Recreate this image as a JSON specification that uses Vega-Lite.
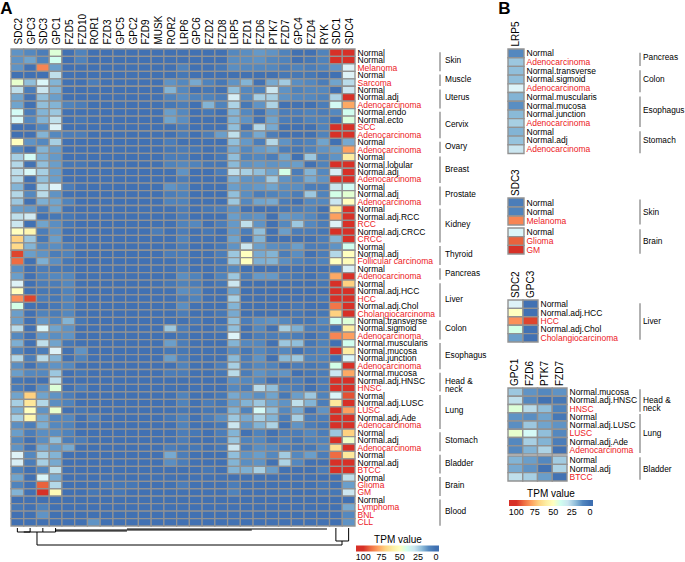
{"$schema":"https://vega.github.io/schema/vega-lite/v6.json","padding":0,"spacing":10,"background":"white","resolve":{"scale":{"color":"independent"}},
"config":{"font":"Liberation Sans","view":{"stroke":null},"axis":{"labelFont":"Liberation Sans","labelColor":"black","domain":false,"ticks":false,"grid":false,"title":null},"legend":{"labelFont":"Liberation Sans","titleFont":"Liberation Sans"},"title":{"font":"Liberation Sans"},"concat":{"spacing":0}},
"params":[{"name":"rowLabels","value":["Normal","Normal","Melanoma","Normal","Sarcoma","Normal","Normal.adj","Adenocarcinoma","Normal.endo","Normal.ecto","SCC","Adenocarcinoma","Normal","Adenocarcinoma","Normal","Normal.lobular","Normal.adj","Adenocarcinoma","Normal","Normal.adj","Adenocarcinoma","Normal","Normal.adj.RCC","RCC","Normal.adj.CRCC","CRCC","Normal","Normal.adj","Follicular carcinoma","Normal","Adenocarcinoma","Normal","Normal.adj.HCC","HCC","Normal.adj.Chol","Cholangiocarcinoma","Normal.transverse","Normal.sigmoid","Adenocarcinoma","Normal.muscularis","Normal.mucosa","Normal.junction","Adenocarcinoma","Normal.mucosa","Normal.adj.HNSC","HNSC","Normal","Normal.adj.LUSC","LUSC","Normal.adj.Ade","Adenocarcinoma","Normal","Normal.adj","Adenocarcinoma","Normal","Normal.adj","BTCC","Normal","Glioma","GM","Normal","Lymphoma","BNL","CLL"]},{"name":"redRows","value":[3,5,8,11,12,14,18,21,24,26,29,31,34,36,39,43,46,49,51,54,57,59,60,62,63,64]}],
"datasets":{"groups":[{"group":"Skin","label":"Skin","first":1,"last":3,"mid":2,"even":0},{"group":"Muscle","label":"Muscle","first":4,"last":5,"mid":4,"even":1},{"group":"Uterus","label":"Uterus","first":6,"last":8,"mid":7,"even":0},{"group":"Cervix","label":"Cervix","first":9,"last":12,"mid":10,"even":1},{"group":"Ovary","label":"Ovary","first":13,"last":14,"mid":13,"even":1},{"group":"Breast","label":"Breast","first":15,"last":18,"mid":16,"even":1},{"group":"Prostate","label":"Prostate","first":19,"last":21,"mid":20,"even":0},{"group":"Kidney","label":"Kidney","first":22,"last":26,"mid":24,"even":0},{"group":"Thyroid","label":"Thyroid","first":27,"last":29,"mid":28,"even":0},{"group":"Pancreas","label":"Pancreas","first":30,"last":31,"mid":30,"even":1},{"group":"Liver","label":"Liver","first":32,"last":36,"mid":34,"even":0},{"group":"Colon","label":"Colon","first":37,"last":39,"mid":38,"even":0},{"group":"Esophagus","label":"Esophagus","first":40,"last":43,"mid":41,"even":1},{"group":"Head","label":"Head &\nneck","first":44,"last":46,"mid":45,"even":0},{"group":"Lung","label":"Lung","first":47,"last":51,"mid":49,"even":0},{"group":"Stomach","label":"Stomach","first":52,"last":54,"mid":53,"even":0},{"group":"Bladder","label":"Bladder","first":55,"last":57,"mid":56,"even":0},{"group":"Brain","label":"Brain","first":58,"last":60,"mid":59,"even":0},{"group":"Blood","label":"Blood","first":61,"last":64,"mid":62,"even":1}],
"tree":[{"x":0.5,"x2":0.5,"y":0,"y2":4},{"x":1.5,"x2":1.5,"y":0,"y2":4},{"x":0.5,"x2":1.5,"y":4,"y2":4},{"x":2.5,"x2":2.5,"y":0,"y2":4},{"x":1,"x2":2.5,"y":4,"y2":4},{"x":3.5,"x2":3.5,"y":0,"y2":4},{"x":2.5,"x2":3.5,"y":4,"y2":4},{"x":2.04,"x2":2.04,"y":4,"y2":17},{"x":2.04,"x2":25.98,"y":17,"y2":17},{"x":25.98,"x2":25.98,"y":13,"y2":17},{"x":25.5,"x2":26.5,"y":13,"y2":13},{"x":25.5,"x2":25.5,"y":0,"y2":13},{"x":26.5,"x2":26.5,"y":0,"y2":13},{"x":3.5,"x2":18.9,"y":2,"y2":2},{"x":3.5,"x2":9.1,"y":3,"y2":3},{"x":9.1,"x2":24.8,"y":1,"y2":1}],
"cells":[
{"row":1,"gene":"SDC2","tpm":12},{"row":1,"gene":"GPC3","tpm":10},{"row":1,"gene":"SDC3","tpm":8},{"row":1,"gene":"GPC1","tpm":45},{"row":1,"gene":"FZD5","tpm":5},{"row":1,"gene":"FZD10","tpm":9},{"row":1,"gene":"ROR1","tpm":5},{"row":1,"gene":"FZD3","tpm":5},{"row":1,"gene":"GPC5","tpm":4},{"row":1,"gene":"GPC2","tpm":5},{"row":1,"gene":"FZD9","tpm":5},{"row":1,"gene":"MUSK","tpm":5},{"row":1,"gene":"ROR2","tpm":5},{"row":1,"gene":"LRP6","tpm":6},{"row":1,"gene":"GPC6","tpm":5},{"row":1,"gene":"FZD2","tpm":5},{"row":1,"gene":"FZD8","tpm":5},{"row":1,"gene":"LRP5","tpm":10},{"row":1,"gene":"FZD1","tpm":11},{"row":1,"gene":"FZD6","tpm":13},{"row":1,"gene":"PTK7","tpm":12},{"row":1,"gene":"FZD7","tpm":9},{"row":1,"gene":"GPC4","tpm":4},{"row":1,"gene":"FZD4","tpm":5},{"row":1,"gene":"RYK","tpm":9},{"row":1,"gene":"SDC1","tpm":100},{"row":1,"gene":"SDC4","tpm":100},
{"row":2,"gene":"SDC2","tpm":12},{"row":2,"gene":"GPC3","tpm":15},{"row":2,"gene":"SDC3","tpm":9},{"row":2,"gene":"GPC1","tpm":40},{"row":2,"gene":"FZD5","tpm":5},{"row":2,"gene":"FZD10","tpm":9},{"row":2,"gene":"ROR1","tpm":5},{"row":2,"gene":"FZD3","tpm":5},{"row":2,"gene":"GPC5","tpm":4},{"row":2,"gene":"GPC2","tpm":5},{"row":2,"gene":"FZD9","tpm":5},{"row":2,"gene":"MUSK","tpm":5},{"row":2,"gene":"ROR2","tpm":6},{"row":2,"gene":"LRP6","tpm":6},{"row":2,"gene":"GPC6","tpm":5},{"row":2,"gene":"FZD2","tpm":5},{"row":2,"gene":"FZD8","tpm":5},{"row":2,"gene":"LRP5","tpm":11},{"row":2,"gene":"FZD1","tpm":11},{"row":2,"gene":"FZD6","tpm":12},{"row":2,"gene":"PTK7","tpm":10},{"row":2,"gene":"FZD7","tpm":9},{"row":2,"gene":"GPC4","tpm":5},{"row":2,"gene":"FZD4","tpm":7},{"row":2,"gene":"RYK","tpm":9},{"row":2,"gene":"SDC1","tpm":100},{"row":2,"gene":"SDC4","tpm":100},
{"row":3,"gene":"SDC2","tpm":12},{"row":3,"gene":"GPC3","tpm":6},{"row":3,"gene":"SDC3","tpm":85},{"row":3,"gene":"GPC1","tpm":14},{"row":3,"gene":"FZD5","tpm":5},{"row":3,"gene":"FZD10","tpm":6},{"row":3,"gene":"ROR1","tpm":5},{"row":3,"gene":"FZD3","tpm":4},{"row":3,"gene":"GPC5","tpm":5},{"row":3,"gene":"GPC2","tpm":6},{"row":3,"gene":"FZD9","tpm":5},{"row":3,"gene":"MUSK","tpm":4},{"row":3,"gene":"ROR2","tpm":5},{"row":3,"gene":"LRP6","tpm":9},{"row":3,"gene":"GPC6","tpm":5},{"row":3,"gene":"FZD2","tpm":6},{"row":3,"gene":"FZD8","tpm":7},{"row":3,"gene":"LRP5","tpm":11},{"row":3,"gene":"FZD1","tpm":10},{"row":3,"gene":"FZD6","tpm":10},{"row":3,"gene":"PTK7","tpm":10},{"row":3,"gene":"FZD7","tpm":8},{"row":3,"gene":"GPC4","tpm":9},{"row":3,"gene":"FZD4","tpm":8},{"row":3,"gene":"RYK","tpm":9},{"row":3,"gene":"SDC1","tpm":12},{"row":3,"gene":"SDC4","tpm":33},
{"row":4,"gene":"SDC2","tpm":5},{"row":4,"gene":"GPC3","tpm":5},{"row":4,"gene":"SDC3","tpm":5},{"row":4,"gene":"GPC1","tpm":28},{"row":4,"gene":"FZD5","tpm":6},{"row":4,"gene":"FZD10","tpm":5},{"row":4,"gene":"ROR1","tpm":5},{"row":4,"gene":"FZD3","tpm":5},{"row":4,"gene":"GPC5","tpm":5},{"row":4,"gene":"GPC2","tpm":6},{"row":4,"gene":"FZD9","tpm":5},{"row":4,"gene":"MUSK","tpm":4},{"row":4,"gene":"ROR2","tpm":5},{"row":4,"gene":"LRP6","tpm":7},{"row":4,"gene":"GPC6","tpm":5},{"row":4,"gene":"FZD2","tpm":5},{"row":4,"gene":"FZD8","tpm":5},{"row":4,"gene":"LRP5","tpm":4},{"row":4,"gene":"FZD1","tpm":6},{"row":4,"gene":"FZD6","tpm":4},{"row":4,"gene":"PTK7","tpm":4},{"row":4,"gene":"FZD7","tpm":7},{"row":4,"gene":"GPC4","tpm":7},{"row":4,"gene":"FZD4","tpm":7},{"row":4,"gene":"RYK","tpm":6},{"row":4,"gene":"SDC1","tpm":5},{"row":4,"gene":"SDC4","tpm":33},
{"row":5,"gene":"SDC2","tpm":47},{"row":5,"gene":"GPC3","tpm":20},{"row":5,"gene":"SDC3","tpm":35},{"row":5,"gene":"GPC1","tpm":18},{"row":5,"gene":"FZD5","tpm":6},{"row":5,"gene":"FZD10","tpm":5},{"row":5,"gene":"ROR1","tpm":8},{"row":5,"gene":"FZD3","tpm":6},{"row":5,"gene":"GPC5","tpm":6},{"row":5,"gene":"GPC2","tpm":6},{"row":5,"gene":"FZD9","tpm":6},{"row":5,"gene":"MUSK","tpm":5},{"row":5,"gene":"ROR2","tpm":12},{"row":5,"gene":"LRP6","tpm":10},{"row":5,"gene":"GPC6","tpm":16},{"row":5,"gene":"FZD2","tpm":9},{"row":5,"gene":"FZD8","tpm":7},{"row":5,"gene":"LRP5","tpm":12},{"row":5,"gene":"FZD1","tpm":18},{"row":5,"gene":"FZD6","tpm":6},{"row":5,"gene":"PTK7","tpm":16},{"row":5,"gene":"FZD7","tpm":23},{"row":5,"gene":"GPC4","tpm":11},{"row":5,"gene":"FZD4","tpm":10},{"row":5,"gene":"RYK","tpm":8},{"row":5,"gene":"SDC1","tpm":15},{"row":5,"gene":"SDC4","tpm":27},
{"row":6,"gene":"SDC2","tpm":28},{"row":6,"gene":"GPC3","tpm":8},{"row":6,"gene":"SDC3","tpm":30},{"row":6,"gene":"GPC1","tpm":18},{"row":6,"gene":"FZD5","tpm":5},{"row":6,"gene":"FZD10","tpm":5},{"row":6,"gene":"ROR1","tpm":6},{"row":6,"gene":"FZD3","tpm":5},{"row":6,"gene":"GPC5","tpm":5},{"row":6,"gene":"GPC2","tpm":5},{"row":6,"gene":"FZD9","tpm":5},{"row":6,"gene":"MUSK","tpm":5},{"row":6,"gene":"ROR2","tpm":18},{"row":6,"gene":"LRP6","tpm":10},{"row":6,"gene":"GPC6","tpm":5},{"row":6,"gene":"FZD2","tpm":7},{"row":6,"gene":"FZD8","tpm":6},{"row":6,"gene":"LRP5","tpm":20},{"row":6,"gene":"FZD1","tpm":10},{"row":6,"gene":"FZD6","tpm":9},{"row":6,"gene":"PTK7","tpm":30},{"row":6,"gene":"FZD7","tpm":12},{"row":6,"gene":"GPC4","tpm":9},{"row":6,"gene":"FZD4","tpm":10},{"row":6,"gene":"RYK","tpm":10},{"row":6,"gene":"SDC1","tpm":5},{"row":6,"gene":"SDC4","tpm":30},
{"row":7,"gene":"SDC2","tpm":15},{"row":7,"gene":"GPC3","tpm":6},{"row":7,"gene":"SDC3","tpm":20},{"row":7,"gene":"GPC1","tpm":14},{"row":7,"gene":"FZD5","tpm":4},{"row":7,"gene":"FZD10","tpm":5},{"row":7,"gene":"ROR1","tpm":5},{"row":7,"gene":"FZD3","tpm":5},{"row":7,"gene":"GPC5","tpm":6},{"row":7,"gene":"GPC2","tpm":5},{"row":7,"gene":"FZD9","tpm":5},{"row":7,"gene":"MUSK","tpm":6},{"row":7,"gene":"ROR2","tpm":9},{"row":7,"gene":"LRP6","tpm":11},{"row":7,"gene":"GPC6","tpm":9},{"row":7,"gene":"FZD2","tpm":9},{"row":7,"gene":"FZD8","tpm":8},{"row":7,"gene":"LRP5","tpm":32},{"row":7,"gene":"FZD1","tpm":10},{"row":7,"gene":"FZD6","tpm":24},{"row":7,"gene":"PTK7","tpm":24},{"row":7,"gene":"FZD7","tpm":12},{"row":7,"gene":"GPC4","tpm":10},{"row":7,"gene":"FZD4","tpm":10},{"row":7,"gene":"RYK","tpm":9},{"row":7,"gene":"SDC1","tpm":25},{"row":7,"gene":"SDC4","tpm":100},
{"row":8,"gene":"SDC2","tpm":15},{"row":8,"gene":"GPC3","tpm":5},{"row":8,"gene":"SDC3","tpm":20},{"row":8,"gene":"GPC1","tpm":18},{"row":8,"gene":"FZD5","tpm":9},{"row":8,"gene":"FZD10","tpm":8},{"row":8,"gene":"ROR1","tpm":5},{"row":8,"gene":"FZD3","tpm":5},{"row":8,"gene":"GPC5","tpm":6},{"row":8,"gene":"GPC2","tpm":5},{"row":8,"gene":"FZD9","tpm":5},{"row":8,"gene":"MUSK","tpm":6},{"row":8,"gene":"ROR2","tpm":7},{"row":8,"gene":"LRP6","tpm":8},{"row":8,"gene":"GPC6","tpm":5},{"row":8,"gene":"FZD2","tpm":18},{"row":8,"gene":"FZD8","tpm":9},{"row":8,"gene":"LRP5","tpm":25},{"row":8,"gene":"FZD1","tpm":7},{"row":8,"gene":"FZD6","tpm":12},{"row":8,"gene":"PTK7","tpm":25},{"row":8,"gene":"FZD7","tpm":5},{"row":8,"gene":"GPC4","tpm":6},{"row":8,"gene":"FZD4","tpm":5},{"row":8,"gene":"RYK","tpm":8},{"row":8,"gene":"SDC1","tpm":38},{"row":8,"gene":"SDC4","tpm":78},
{"row":9,"gene":"SDC2","tpm":38},{"row":9,"gene":"GPC3","tpm":8},{"row":9,"gene":"SDC3","tpm":18},{"row":9,"gene":"GPC1","tpm":22},{"row":9,"gene":"FZD5","tpm":6},{"row":9,"gene":"FZD10","tpm":6},{"row":9,"gene":"ROR1","tpm":6},{"row":9,"gene":"FZD3","tpm":5},{"row":9,"gene":"GPC5","tpm":5},{"row":9,"gene":"GPC2","tpm":5},{"row":9,"gene":"FZD9","tpm":5},{"row":9,"gene":"MUSK","tpm":5},{"row":9,"gene":"ROR2","tpm":14},{"row":9,"gene":"LRP6","tpm":10},{"row":9,"gene":"GPC6","tpm":5},{"row":9,"gene":"FZD2","tpm":7},{"row":9,"gene":"FZD8","tpm":5},{"row":9,"gene":"LRP5","tpm":18},{"row":9,"gene":"FZD1","tpm":10},{"row":9,"gene":"FZD6","tpm":6},{"row":9,"gene":"PTK7","tpm":13},{"row":9,"gene":"FZD7","tpm":8},{"row":9,"gene":"GPC4","tpm":8},{"row":9,"gene":"FZD4","tpm":9},{"row":9,"gene":"RYK","tpm":8},{"row":9,"gene":"SDC1","tpm":10},{"row":9,"gene":"SDC4","tpm":40},
{"row":10,"gene":"SDC2","tpm":36},{"row":10,"gene":"GPC3","tpm":10},{"row":10,"gene":"SDC3","tpm":18},{"row":10,"gene":"GPC1","tpm":28},{"row":10,"gene":"FZD5","tpm":6},{"row":10,"gene":"FZD10","tpm":7},{"row":10,"gene":"ROR1","tpm":6},{"row":10,"gene":"FZD3","tpm":5},{"row":10,"gene":"GPC5","tpm":5},{"row":10,"gene":"GPC2","tpm":5},{"row":10,"gene":"FZD9","tpm":5},{"row":10,"gene":"MUSK","tpm":5},{"row":10,"gene":"ROR2","tpm":15},{"row":10,"gene":"LRP6","tpm":11},{"row":10,"gene":"GPC6","tpm":5},{"row":10,"gene":"FZD2","tpm":6},{"row":10,"gene":"FZD8","tpm":4},{"row":10,"gene":"LRP5","tpm":18},{"row":10,"gene":"FZD1","tpm":12},{"row":10,"gene":"FZD6","tpm":6},{"row":10,"gene":"PTK7","tpm":15},{"row":10,"gene":"FZD7","tpm":8},{"row":10,"gene":"GPC4","tpm":7},{"row":10,"gene":"FZD4","tpm":9},{"row":10,"gene":"RYK","tpm":9},{"row":10,"gene":"SDC1","tpm":6},{"row":10,"gene":"SDC4","tpm":44},
{"row":11,"gene":"SDC2","tpm":5},{"row":11,"gene":"GPC3","tpm":6},{"row":11,"gene":"SDC3","tpm":10},{"row":11,"gene":"GPC1","tpm":33},{"row":11,"gene":"FZD5","tpm":5},{"row":11,"gene":"FZD10","tpm":5},{"row":11,"gene":"ROR1","tpm":5},{"row":11,"gene":"FZD3","tpm":5},{"row":11,"gene":"GPC5","tpm":5},{"row":11,"gene":"GPC2","tpm":5},{"row":11,"gene":"FZD9","tpm":5},{"row":11,"gene":"MUSK","tpm":5},{"row":11,"gene":"ROR2","tpm":5},{"row":11,"gene":"LRP6","tpm":8},{"row":11,"gene":"GPC6","tpm":5},{"row":11,"gene":"FZD2","tpm":6},{"row":11,"gene":"FZD8","tpm":6},{"row":11,"gene":"LRP5","tpm":20},{"row":11,"gene":"FZD1","tpm":6},{"row":11,"gene":"FZD6","tpm":26},{"row":11,"gene":"PTK7","tpm":16},{"row":11,"gene":"FZD7","tpm":4},{"row":11,"gene":"GPC4","tpm":5},{"row":11,"gene":"FZD4","tpm":4},{"row":11,"gene":"RYK","tpm":9},{"row":11,"gene":"SDC1","tpm":100},{"row":11,"gene":"SDC4","tpm":100},
{"row":12,"gene":"SDC2","tpm":3},{"row":12,"gene":"GPC3","tpm":5},{"row":12,"gene":"SDC3","tpm":18},{"row":12,"gene":"GPC1","tpm":10},{"row":12,"gene":"FZD5","tpm":8},{"row":12,"gene":"FZD10","tpm":8},{"row":12,"gene":"ROR1","tpm":5},{"row":12,"gene":"FZD3","tpm":5},{"row":12,"gene":"GPC5","tpm":6},{"row":12,"gene":"GPC2","tpm":5},{"row":12,"gene":"FZD9","tpm":5},{"row":12,"gene":"MUSK","tpm":6},{"row":12,"gene":"ROR2","tpm":5},{"row":12,"gene":"LRP6","tpm":8},{"row":12,"gene":"GPC6","tpm":5},{"row":12,"gene":"FZD2","tpm":8},{"row":12,"gene":"FZD8","tpm":14},{"row":12,"gene":"LRP5","tpm":28},{"row":12,"gene":"FZD1","tpm":10},{"row":12,"gene":"FZD6","tpm":16},{"row":12,"gene":"PTK7","tpm":8},{"row":12,"gene":"FZD7","tpm":5},{"row":12,"gene":"GPC4","tpm":5},{"row":12,"gene":"FZD4","tpm":4},{"row":12,"gene":"RYK","tpm":9},{"row":12,"gene":"SDC1","tpm":100},{"row":12,"gene":"SDC4","tpm":100},
{"row":13,"gene":"SDC2","tpm":50},{"row":13,"gene":"GPC3","tpm":12},{"row":13,"gene":"SDC3","tpm":10},{"row":13,"gene":"GPC1","tpm":24},{"row":13,"gene":"FZD5","tpm":5},{"row":13,"gene":"FZD10","tpm":5},{"row":13,"gene":"ROR1","tpm":5},{"row":13,"gene":"FZD3","tpm":5},{"row":13,"gene":"GPC5","tpm":5},{"row":13,"gene":"GPC2","tpm":5},{"row":13,"gene":"FZD9","tpm":5},{"row":13,"gene":"MUSK","tpm":6},{"row":13,"gene":"ROR2","tpm":8},{"row":13,"gene":"LRP6","tpm":6},{"row":13,"gene":"GPC6","tpm":6},{"row":13,"gene":"FZD2","tpm":6},{"row":13,"gene":"FZD8","tpm":5},{"row":13,"gene":"LRP5","tpm":20},{"row":13,"gene":"FZD1","tpm":13},{"row":13,"gene":"FZD6","tpm":8},{"row":13,"gene":"PTK7","tpm":26},{"row":13,"gene":"FZD7","tpm":12},{"row":13,"gene":"GPC4","tpm":8},{"row":13,"gene":"FZD4","tpm":9},{"row":13,"gene":"RYK","tpm":15},{"row":13,"gene":"SDC1","tpm":5},{"row":13,"gene":"SDC4","tpm":16},
{"row":14,"gene":"SDC2","tpm":10},{"row":14,"gene":"GPC3","tpm":5},{"row":14,"gene":"SDC3","tpm":18},{"row":14,"gene":"GPC1","tpm":14},{"row":14,"gene":"FZD5","tpm":5},{"row":14,"gene":"FZD10","tpm":6},{"row":14,"gene":"ROR1","tpm":5},{"row":14,"gene":"FZD3","tpm":5},{"row":14,"gene":"GPC5","tpm":6},{"row":14,"gene":"GPC2","tpm":6},{"row":14,"gene":"FZD9","tpm":5},{"row":14,"gene":"MUSK","tpm":5},{"row":14,"gene":"ROR2","tpm":7},{"row":14,"gene":"LRP6","tpm":8},{"row":14,"gene":"GPC6","tpm":7},{"row":14,"gene":"FZD2","tpm":6},{"row":14,"gene":"FZD8","tpm":7},{"row":14,"gene":"LRP5","tpm":16},{"row":14,"gene":"FZD1","tpm":10},{"row":14,"gene":"FZD6","tpm":13},{"row":14,"gene":"PTK7","tpm":15},{"row":14,"gene":"FZD7","tpm":8},{"row":14,"gene":"GPC4","tpm":7},{"row":14,"gene":"FZD4","tpm":9},{"row":14,"gene":"RYK","tpm":12},{"row":14,"gene":"SDC1","tpm":14},{"row":14,"gene":"SDC4","tpm":80},
{"row":15,"gene":"SDC2","tpm":24},{"row":15,"gene":"GPC3","tpm":38},{"row":15,"gene":"SDC3","tpm":17},{"row":15,"gene":"GPC1","tpm":13},{"row":15,"gene":"FZD5","tpm":5},{"row":15,"gene":"FZD10","tpm":6},{"row":15,"gene":"ROR1","tpm":5},{"row":15,"gene":"FZD3","tpm":5},{"row":15,"gene":"GPC5","tpm":5},{"row":15,"gene":"GPC2","tpm":5},{"row":15,"gene":"FZD9","tpm":5},{"row":15,"gene":"MUSK","tpm":5},{"row":15,"gene":"ROR2","tpm":8},{"row":15,"gene":"LRP6","tpm":8},{"row":15,"gene":"GPC6","tpm":6},{"row":15,"gene":"FZD2","tpm":4},{"row":15,"gene":"FZD8","tpm":7},{"row":15,"gene":"LRP5","tpm":20},{"row":15,"gene":"FZD1","tpm":9},{"row":15,"gene":"FZD6","tpm":10},{"row":15,"gene":"PTK7","tpm":8},{"row":15,"gene":"FZD7","tpm":15},{"row":15,"gene":"GPC4","tpm":4},{"row":15,"gene":"FZD4","tpm":22},{"row":15,"gene":"RYK","tpm":9},{"row":15,"gene":"SDC1","tpm":12},{"row":15,"gene":"SDC4","tpm":60},
{"row":16,"gene":"SDC2","tpm":26},{"row":16,"gene":"GPC3","tpm":6},{"row":16,"gene":"SDC3","tpm":20},{"row":16,"gene":"GPC1","tpm":14},{"row":16,"gene":"FZD5","tpm":7},{"row":16,"gene":"FZD10","tpm":7},{"row":16,"gene":"ROR1","tpm":6},{"row":16,"gene":"FZD3","tpm":6},{"row":16,"gene":"GPC5","tpm":6},{"row":16,"gene":"GPC2","tpm":5},{"row":16,"gene":"FZD9","tpm":5},{"row":16,"gene":"MUSK","tpm":6},{"row":16,"gene":"ROR2","tpm":9},{"row":16,"gene":"LRP6","tpm":10},{"row":16,"gene":"GPC6","tpm":9},{"row":16,"gene":"FZD2","tpm":7},{"row":16,"gene":"FZD8","tpm":7},{"row":16,"gene":"LRP5","tpm":19},{"row":16,"gene":"FZD1","tpm":12},{"row":16,"gene":"FZD6","tpm":13},{"row":16,"gene":"PTK7","tpm":12},{"row":16,"gene":"FZD7","tpm":13},{"row":16,"gene":"GPC4","tpm":14},{"row":16,"gene":"FZD4","tpm":5},{"row":16,"gene":"RYK","tpm":9},{"row":16,"gene":"SDC1","tpm":100},{"row":16,"gene":"SDC4","tpm":100},
{"row":17,"gene":"SDC2","tpm":28},{"row":17,"gene":"GPC3","tpm":36},{"row":17,"gene":"SDC3","tpm":24},{"row":17,"gene":"GPC1","tpm":14},{"row":17,"gene":"FZD5","tpm":5},{"row":17,"gene":"FZD10","tpm":6},{"row":17,"gene":"ROR1","tpm":6},{"row":17,"gene":"FZD3","tpm":6},{"row":17,"gene":"GPC5","tpm":5},{"row":17,"gene":"GPC2","tpm":5},{"row":17,"gene":"FZD9","tpm":5},{"row":17,"gene":"MUSK","tpm":5},{"row":17,"gene":"ROR2","tpm":6},{"row":17,"gene":"LRP6","tpm":12},{"row":17,"gene":"GPC6","tpm":5},{"row":17,"gene":"FZD2","tpm":5},{"row":17,"gene":"FZD8","tpm":8},{"row":17,"gene":"LRP5","tpm":28},{"row":17,"gene":"FZD1","tpm":24},{"row":17,"gene":"FZD6","tpm":20},{"row":17,"gene":"PTK7","tpm":15},{"row":17,"gene":"FZD7","tpm":42},{"row":17,"gene":"GPC4","tpm":8},{"row":17,"gene":"FZD4","tpm":18},{"row":17,"gene":"RYK","tpm":10},{"row":17,"gene":"SDC1","tpm":32},{"row":17,"gene":"SDC4","tpm":100},
{"row":18,"gene":"SDC2","tpm":26},{"row":18,"gene":"GPC3","tpm":5},{"row":18,"gene":"SDC3","tpm":20},{"row":18,"gene":"GPC1","tpm":14},{"row":18,"gene":"FZD5","tpm":5},{"row":18,"gene":"FZD10","tpm":5},{"row":18,"gene":"ROR1","tpm":5},{"row":18,"gene":"FZD3","tpm":6},{"row":18,"gene":"GPC5","tpm":5},{"row":18,"gene":"GPC2","tpm":5},{"row":18,"gene":"FZD9","tpm":5},{"row":18,"gene":"MUSK","tpm":5},{"row":18,"gene":"ROR2","tpm":5},{"row":18,"gene":"LRP6","tpm":8},{"row":18,"gene":"GPC6","tpm":5},{"row":18,"gene":"FZD2","tpm":5},{"row":18,"gene":"FZD8","tpm":6},{"row":18,"gene":"LRP5","tpm":17},{"row":18,"gene":"FZD1","tpm":12},{"row":18,"gene":"FZD6","tpm":12},{"row":18,"gene":"PTK7","tpm":23},{"row":18,"gene":"FZD7","tpm":12},{"row":18,"gene":"GPC4","tpm":10},{"row":18,"gene":"FZD4","tpm":16},{"row":18,"gene":"RYK","tpm":12},{"row":18,"gene":"SDC1","tpm":100},{"row":18,"gene":"SDC4","tpm":100},
{"row":19,"gene":"SDC2","tpm":18},{"row":19,"gene":"GPC3","tpm":6},{"row":19,"gene":"SDC3","tpm":26},{"row":19,"gene":"GPC1","tpm":34},{"row":19,"gene":"FZD5","tpm":8},{"row":19,"gene":"FZD10","tpm":6},{"row":19,"gene":"ROR1","tpm":5},{"row":19,"gene":"FZD3","tpm":6},{"row":19,"gene":"GPC5","tpm":5},{"row":19,"gene":"GPC2","tpm":5},{"row":19,"gene":"FZD9","tpm":5},{"row":19,"gene":"MUSK","tpm":5},{"row":19,"gene":"ROR2","tpm":12},{"row":19,"gene":"LRP6","tpm":10},{"row":19,"gene":"GPC6","tpm":6},{"row":19,"gene":"FZD2","tpm":6},{"row":19,"gene":"FZD8","tpm":6},{"row":19,"gene":"LRP5","tpm":14},{"row":19,"gene":"FZD1","tpm":12},{"row":19,"gene":"FZD6","tpm":13},{"row":19,"gene":"PTK7","tpm":15},{"row":19,"gene":"FZD7","tpm":11},{"row":19,"gene":"GPC4","tpm":11},{"row":19,"gene":"FZD4","tpm":8},{"row":19,"gene":"RYK","tpm":8},{"row":19,"gene":"SDC1","tpm":30},{"row":19,"gene":"SDC4","tpm":38},
{"row":20,"gene":"SDC2","tpm":26},{"row":20,"gene":"GPC3","tpm":10},{"row":20,"gene":"SDC3","tpm":27},{"row":20,"gene":"GPC1","tpm":12},{"row":20,"gene":"FZD5","tpm":6},{"row":20,"gene":"FZD10","tpm":5},{"row":20,"gene":"ROR1","tpm":5},{"row":20,"gene":"FZD3","tpm":5},{"row":20,"gene":"GPC5","tpm":5},{"row":20,"gene":"GPC2","tpm":5},{"row":20,"gene":"FZD9","tpm":5},{"row":20,"gene":"MUSK","tpm":5},{"row":20,"gene":"ROR2","tpm":8},{"row":20,"gene":"LRP6","tpm":9},{"row":20,"gene":"GPC6","tpm":5},{"row":20,"gene":"FZD2","tpm":5},{"row":20,"gene":"FZD8","tpm":5},{"row":20,"gene":"LRP5","tpm":20},{"row":20,"gene":"FZD1","tpm":11},{"row":20,"gene":"FZD6","tpm":8},{"row":20,"gene":"PTK7","tpm":9},{"row":20,"gene":"FZD7","tpm":10},{"row":20,"gene":"GPC4","tpm":8},{"row":20,"gene":"FZD4","tpm":22},{"row":20,"gene":"RYK","tpm":9},{"row":20,"gene":"SDC1","tpm":42},{"row":20,"gene":"SDC4","tpm":46},
{"row":21,"gene":"SDC2","tpm":22},{"row":21,"gene":"GPC3","tpm":6},{"row":21,"gene":"SDC3","tpm":17},{"row":21,"gene":"GPC1","tpm":15},{"row":21,"gene":"FZD5","tpm":9},{"row":21,"gene":"FZD10","tpm":5},{"row":21,"gene":"ROR1","tpm":5},{"row":21,"gene":"FZD3","tpm":6},{"row":21,"gene":"GPC5","tpm":5},{"row":21,"gene":"GPC2","tpm":5},{"row":21,"gene":"FZD9","tpm":5},{"row":21,"gene":"MUSK","tpm":5},{"row":21,"gene":"ROR2","tpm":9},{"row":21,"gene":"LRP6","tpm":9},{"row":21,"gene":"GPC6","tpm":6},{"row":21,"gene":"FZD2","tpm":6},{"row":21,"gene":"FZD8","tpm":5},{"row":21,"gene":"LRP5","tpm":22},{"row":21,"gene":"FZD1","tpm":10},{"row":21,"gene":"FZD6","tpm":15},{"row":21,"gene":"PTK7","tpm":16},{"row":21,"gene":"FZD7","tpm":8},{"row":21,"gene":"GPC4","tpm":6},{"row":21,"gene":"FZD4","tpm":10},{"row":21,"gene":"RYK","tpm":10},{"row":21,"gene":"SDC1","tpm":30},{"row":21,"gene":"SDC4","tpm":50},
{"row":22,"gene":"SDC2","tpm":14},{"row":22,"gene":"GPC3","tpm":13},{"row":22,"gene":"SDC3","tpm":8},{"row":22,"gene":"GPC1","tpm":15},{"row":22,"gene":"FZD5","tpm":6},{"row":22,"gene":"FZD10","tpm":5},{"row":22,"gene":"ROR1","tpm":5},{"row":22,"gene":"FZD3","tpm":5},{"row":22,"gene":"GPC5","tpm":5},{"row":22,"gene":"GPC2","tpm":5},{"row":22,"gene":"FZD9","tpm":6},{"row":22,"gene":"MUSK","tpm":5},{"row":22,"gene":"ROR2","tpm":6},{"row":22,"gene":"LRP6","tpm":8},{"row":22,"gene":"GPC6","tpm":5},{"row":22,"gene":"FZD2","tpm":7},{"row":22,"gene":"FZD8","tpm":8},{"row":22,"gene":"LRP5","tpm":12},{"row":22,"gene":"FZD1","tpm":6},{"row":22,"gene":"FZD6","tpm":5},{"row":22,"gene":"PTK7","tpm":5},{"row":22,"gene":"FZD7","tpm":7},{"row":22,"gene":"GPC4","tpm":8},{"row":22,"gene":"FZD4","tpm":9},{"row":22,"gene":"RYK","tpm":4},{"row":22,"gene":"SDC1","tpm":62},{"row":22,"gene":"SDC4","tpm":100},
{"row":23,"gene":"SDC2","tpm":28},{"row":23,"gene":"GPC3","tpm":31},{"row":23,"gene":"SDC3","tpm":6},{"row":23,"gene":"GPC1","tpm":7},{"row":23,"gene":"FZD5","tpm":7},{"row":23,"gene":"FZD10","tpm":6},{"row":23,"gene":"ROR1","tpm":5},{"row":23,"gene":"FZD3","tpm":5},{"row":23,"gene":"GPC5","tpm":5},{"row":23,"gene":"GPC2","tpm":5},{"row":23,"gene":"FZD9","tpm":5},{"row":23,"gene":"MUSK","tpm":5},{"row":23,"gene":"ROR2","tpm":6},{"row":23,"gene":"LRP6","tpm":8},{"row":23,"gene":"GPC6","tpm":5},{"row":23,"gene":"FZD2","tpm":5},{"row":23,"gene":"FZD8","tpm":6},{"row":23,"gene":"LRP5","tpm":14},{"row":23,"gene":"FZD1","tpm":11},{"row":23,"gene":"FZD6","tpm":12},{"row":23,"gene":"PTK7","tpm":4},{"row":23,"gene":"FZD7","tpm":13},{"row":23,"gene":"GPC4","tpm":12},{"row":23,"gene":"FZD4","tpm":10},{"row":23,"gene":"RYK","tpm":7},{"row":23,"gene":"SDC1","tpm":80},{"row":23,"gene":"SDC4","tpm":100},
{"row":24,"gene":"SDC2","tpm":30},{"row":24,"gene":"GPC3","tpm":5},{"row":24,"gene":"SDC3","tpm":15},{"row":24,"gene":"GPC1","tpm":11},{"row":24,"gene":"FZD5","tpm":7},{"row":24,"gene":"FZD10","tpm":5},{"row":24,"gene":"ROR1","tpm":5},{"row":24,"gene":"FZD3","tpm":5},{"row":24,"gene":"GPC5","tpm":5},{"row":24,"gene":"GPC2","tpm":6},{"row":24,"gene":"FZD9","tpm":5},{"row":24,"gene":"MUSK","tpm":6},{"row":24,"gene":"ROR2","tpm":6},{"row":24,"gene":"LRP6","tpm":9},{"row":24,"gene":"GPC6","tpm":10},{"row":24,"gene":"FZD2","tpm":5},{"row":24,"gene":"FZD8","tpm":8},{"row":24,"gene":"LRP5","tpm":13},{"row":24,"gene":"FZD1","tpm":28},{"row":24,"gene":"FZD6","tpm":12},{"row":24,"gene":"PTK7","tpm":5},{"row":24,"gene":"FZD7","tpm":10},{"row":24,"gene":"GPC4","tpm":22},{"row":24,"gene":"FZD4","tpm":10},{"row":24,"gene":"RYK","tpm":8},{"row":24,"gene":"SDC1","tpm":33},{"row":24,"gene":"SDC4","tpm":100},
{"row":25,"gene":"SDC2","tpm":50},{"row":25,"gene":"GPC3","tpm":55},{"row":25,"gene":"SDC3","tpm":8},{"row":25,"gene":"GPC1","tpm":12},{"row":25,"gene":"FZD5","tpm":6},{"row":25,"gene":"FZD10","tpm":5},{"row":25,"gene":"ROR1","tpm":5},{"row":25,"gene":"FZD3","tpm":5},{"row":25,"gene":"GPC5","tpm":5},{"row":25,"gene":"GPC2","tpm":5},{"row":25,"gene":"FZD9","tpm":5},{"row":25,"gene":"MUSK","tpm":8},{"row":25,"gene":"ROR2","tpm":5},{"row":25,"gene":"LRP6","tpm":8},{"row":25,"gene":"GPC6","tpm":6},{"row":25,"gene":"FZD2","tpm":7},{"row":25,"gene":"FZD8","tpm":5},{"row":25,"gene":"LRP5","tpm":13},{"row":25,"gene":"FZD1","tpm":8},{"row":25,"gene":"FZD6","tpm":20},{"row":25,"gene":"PTK7","tpm":6},{"row":25,"gene":"FZD7","tpm":14},{"row":25,"gene":"GPC4","tpm":8},{"row":25,"gene":"FZD4","tpm":8},{"row":25,"gene":"RYK","tpm":7},{"row":25,"gene":"SDC1","tpm":100},{"row":25,"gene":"SDC4","tpm":100},
{"row":26,"gene":"SDC2","tpm":70},{"row":26,"gene":"GPC3","tpm":22},{"row":26,"gene":"SDC3","tpm":7},{"row":26,"gene":"GPC1","tpm":14},{"row":26,"gene":"FZD5","tpm":5},{"row":26,"gene":"FZD10","tpm":5},{"row":26,"gene":"ROR1","tpm":5},{"row":26,"gene":"FZD3","tpm":5},{"row":26,"gene":"GPC5","tpm":5},{"row":26,"gene":"GPC2","tpm":5},{"row":26,"gene":"FZD9","tpm":5},{"row":26,"gene":"MUSK","tpm":5},{"row":26,"gene":"ROR2","tpm":5},{"row":26,"gene":"LRP6","tpm":9},{"row":26,"gene":"GPC6","tpm":6},{"row":26,"gene":"FZD2","tpm":6},{"row":26,"gene":"FZD8","tpm":5},{"row":26,"gene":"LRP5","tpm":15},{"row":26,"gene":"FZD1","tpm":5},{"row":26,"gene":"FZD6","tpm":18},{"row":26,"gene":"PTK7","tpm":4},{"row":26,"gene":"FZD7","tpm":5},{"row":26,"gene":"GPC4","tpm":4},{"row":26,"gene":"FZD4","tpm":6},{"row":26,"gene":"RYK","tpm":8},{"row":26,"gene":"SDC1","tpm":18},{"row":26,"gene":"SDC4","tpm":100},
{"row":27,"gene":"SDC2","tpm":68},{"row":27,"gene":"GPC3","tpm":18},{"row":27,"gene":"SDC3","tpm":10},{"row":27,"gene":"GPC1","tpm":11},{"row":27,"gene":"FZD5","tpm":8},{"row":27,"gene":"FZD10","tpm":6},{"row":27,"gene":"ROR1","tpm":5},{"row":27,"gene":"FZD3","tpm":5},{"row":27,"gene":"GPC5","tpm":5},{"row":27,"gene":"GPC2","tpm":5},{"row":27,"gene":"FZD9","tpm":5},{"row":27,"gene":"MUSK","tpm":5},{"row":27,"gene":"ROR2","tpm":6},{"row":27,"gene":"LRP6","tpm":8},{"row":27,"gene":"GPC6","tpm":5},{"row":27,"gene":"FZD2","tpm":5},{"row":27,"gene":"FZD8","tpm":7},{"row":27,"gene":"LRP5","tpm":12},{"row":27,"gene":"FZD1","tpm":30},{"row":27,"gene":"FZD6","tpm":14},{"row":27,"gene":"PTK7","tpm":11},{"row":27,"gene":"FZD7","tpm":10},{"row":27,"gene":"GPC4","tpm":14},{"row":27,"gene":"FZD4","tpm":8},{"row":27,"gene":"RYK","tpm":8},{"row":27,"gene":"SDC1","tpm":12},{"row":27,"gene":"SDC4","tpm":40},
{"row":28,"gene":"SDC2","tpm":97},{"row":28,"gene":"GPC3","tpm":14},{"row":28,"gene":"SDC3","tpm":12},{"row":28,"gene":"GPC1","tpm":8},{"row":28,"gene":"FZD5","tpm":9},{"row":28,"gene":"FZD10","tpm":5},{"row":28,"gene":"ROR1","tpm":5},{"row":28,"gene":"FZD3","tpm":5},{"row":28,"gene":"GPC5","tpm":5},{"row":28,"gene":"GPC2","tpm":5},{"row":28,"gene":"FZD9","tpm":5},{"row":28,"gene":"MUSK","tpm":5},{"row":28,"gene":"ROR2","tpm":8},{"row":28,"gene":"LRP6","tpm":8},{"row":28,"gene":"GPC6","tpm":6},{"row":28,"gene":"FZD2","tpm":6},{"row":28,"gene":"FZD8","tpm":8},{"row":28,"gene":"LRP5","tpm":22},{"row":28,"gene":"FZD1","tpm":50},{"row":28,"gene":"FZD6","tpm":16},{"row":28,"gene":"PTK7","tpm":18},{"row":28,"gene":"FZD7","tpm":8},{"row":28,"gene":"GPC4","tpm":11},{"row":28,"gene":"FZD4","tpm":6},{"row":28,"gene":"RYK","tpm":8},{"row":28,"gene":"SDC1","tpm":26},{"row":28,"gene":"SDC4","tpm":50},
{"row":29,"gene":"SDC2","tpm":90},{"row":29,"gene":"GPC3","tpm":5},{"row":29,"gene":"SDC3","tpm":17},{"row":29,"gene":"GPC1","tpm":11},{"row":29,"gene":"FZD5","tpm":7},{"row":29,"gene":"FZD10","tpm":5},{"row":29,"gene":"ROR1","tpm":5},{"row":29,"gene":"FZD3","tpm":5},{"row":29,"gene":"GPC5","tpm":5},{"row":29,"gene":"GPC2","tpm":5},{"row":29,"gene":"FZD9","tpm":5},{"row":29,"gene":"MUSK","tpm":5},{"row":29,"gene":"ROR2","tpm":6},{"row":29,"gene":"LRP6","tpm":8},{"row":29,"gene":"GPC6","tpm":6},{"row":29,"gene":"FZD2","tpm":6},{"row":29,"gene":"FZD8","tpm":7},{"row":29,"gene":"LRP5","tpm":22},{"row":29,"gene":"FZD1","tpm":50},{"row":29,"gene":"FZD6","tpm":17},{"row":29,"gene":"PTK7","tpm":18},{"row":29,"gene":"FZD7","tpm":11},{"row":29,"gene":"GPC4","tpm":9},{"row":29,"gene":"FZD4","tpm":8},{"row":29,"gene":"RYK","tpm":9},{"row":29,"gene":"SDC1","tpm":50},{"row":29,"gene":"SDC4","tpm":52},
{"row":30,"gene":"SDC2","tpm":11},{"row":30,"gene":"GPC3","tpm":5},{"row":30,"gene":"SDC3","tpm":8},{"row":30,"gene":"GPC1","tpm":7},{"row":30,"gene":"FZD5","tpm":7},{"row":30,"gene":"FZD10","tpm":5},{"row":30,"gene":"ROR1","tpm":5},{"row":30,"gene":"FZD3","tpm":5},{"row":30,"gene":"GPC5","tpm":5},{"row":30,"gene":"GPC2","tpm":5},{"row":30,"gene":"FZD9","tpm":5},{"row":30,"gene":"MUSK","tpm":5},{"row":30,"gene":"ROR2","tpm":6},{"row":30,"gene":"LRP6","tpm":8},{"row":30,"gene":"GPC6","tpm":5},{"row":30,"gene":"FZD2","tpm":5},{"row":30,"gene":"FZD8","tpm":7},{"row":30,"gene":"LRP5","tpm":10},{"row":30,"gene":"FZD1","tpm":5},{"row":30,"gene":"FZD6","tpm":5},{"row":30,"gene":"PTK7","tpm":6},{"row":30,"gene":"FZD7","tpm":5},{"row":30,"gene":"GPC4","tpm":6},{"row":30,"gene":"FZD4","tpm":5},{"row":30,"gene":"RYK","tpm":6},{"row":30,"gene":"SDC1","tpm":8},{"row":30,"gene":"SDC4","tpm":32},
{"row":31,"gene":"SDC2","tpm":14},{"row":31,"gene":"GPC3","tpm":5},{"row":31,"gene":"SDC3","tpm":9},{"row":31,"gene":"GPC1","tpm":10},{"row":31,"gene":"FZD5","tpm":10},{"row":31,"gene":"FZD10","tpm":5},{"row":31,"gene":"ROR1","tpm":6},{"row":31,"gene":"FZD3","tpm":6},{"row":31,"gene":"GPC5","tpm":6},{"row":31,"gene":"GPC2","tpm":6},{"row":31,"gene":"FZD9","tpm":5},{"row":31,"gene":"MUSK","tpm":5},{"row":31,"gene":"ROR2","tpm":6},{"row":31,"gene":"LRP6","tpm":11},{"row":31,"gene":"GPC6","tpm":9},{"row":31,"gene":"FZD2","tpm":5},{"row":31,"gene":"FZD8","tpm":9},{"row":31,"gene":"LRP5","tpm":22},{"row":31,"gene":"FZD1","tpm":8},{"row":31,"gene":"FZD6","tpm":13},{"row":31,"gene":"PTK7","tpm":13},{"row":31,"gene":"FZD7","tpm":8},{"row":31,"gene":"GPC4","tpm":7},{"row":31,"gene":"FZD4","tpm":6},{"row":31,"gene":"RYK","tpm":8},{"row":31,"gene":"SDC1","tpm":78},{"row":31,"gene":"SDC4","tpm":100},
{"row":32,"gene":"SDC2","tpm":33},{"row":32,"gene":"GPC3","tpm":5},{"row":32,"gene":"SDC3","tpm":8},{"row":32,"gene":"GPC1","tpm":8},{"row":32,"gene":"FZD5","tpm":10},{"row":32,"gene":"FZD10","tpm":6},{"row":32,"gene":"ROR1","tpm":5},{"row":32,"gene":"FZD3","tpm":5},{"row":32,"gene":"GPC5","tpm":5},{"row":32,"gene":"GPC2","tpm":5},{"row":32,"gene":"FZD9","tpm":5},{"row":32,"gene":"MUSK","tpm":6},{"row":32,"gene":"ROR2","tpm":7},{"row":32,"gene":"LRP6","tpm":9},{"row":32,"gene":"GPC6","tpm":8},{"row":32,"gene":"FZD2","tpm":5},{"row":32,"gene":"FZD8","tpm":7},{"row":32,"gene":"LRP5","tpm":30},{"row":32,"gene":"FZD1","tpm":4},{"row":32,"gene":"FZD6","tpm":4},{"row":32,"gene":"PTK7","tpm":4},{"row":32,"gene":"FZD7","tpm":5},{"row":32,"gene":"GPC4","tpm":6},{"row":32,"gene":"FZD4","tpm":5},{"row":32,"gene":"RYK","tpm":7},{"row":32,"gene":"SDC1","tpm":100},{"row":32,"gene":"SDC4","tpm":70},
{"row":33,"gene":"SDC2","tpm":50},{"row":33,"gene":"GPC3","tpm":5},{"row":33,"gene":"SDC3","tpm":7},{"row":33,"gene":"GPC1","tpm":7},{"row":33,"gene":"FZD5","tpm":9},{"row":33,"gene":"FZD10","tpm":5},{"row":33,"gene":"ROR1","tpm":5},{"row":33,"gene":"FZD3","tpm":5},{"row":33,"gene":"GPC5","tpm":5},{"row":33,"gene":"GPC2","tpm":5},{"row":33,"gene":"FZD9","tpm":5},{"row":33,"gene":"MUSK","tpm":6},{"row":33,"gene":"ROR2","tpm":6},{"row":33,"gene":"LRP6","tpm":11},{"row":33,"gene":"GPC6","tpm":10},{"row":33,"gene":"FZD2","tpm":5},{"row":33,"gene":"FZD8","tpm":5},{"row":33,"gene":"LRP5","tpm":15},{"row":33,"gene":"FZD1","tpm":4},{"row":33,"gene":"FZD6","tpm":4},{"row":33,"gene":"PTK7","tpm":4},{"row":33,"gene":"FZD7","tpm":5},{"row":33,"gene":"GPC4","tpm":6},{"row":33,"gene":"FZD4","tpm":4},{"row":33,"gene":"RYK","tpm":6},{"row":33,"gene":"SDC1","tpm":100},{"row":33,"gene":"SDC4","tpm":100},
{"row":34,"gene":"SDC2","tpm":83},{"row":34,"gene":"GPC3","tpm":97},{"row":34,"gene":"SDC3","tpm":8},{"row":34,"gene":"GPC1","tpm":7},{"row":34,"gene":"FZD5","tpm":9},{"row":34,"gene":"FZD10","tpm":5},{"row":34,"gene":"ROR1","tpm":5},{"row":34,"gene":"FZD3","tpm":5},{"row":34,"gene":"GPC5","tpm":5},{"row":34,"gene":"GPC2","tpm":5},{"row":34,"gene":"FZD9","tpm":5},{"row":34,"gene":"MUSK","tpm":5},{"row":34,"gene":"ROR2","tpm":5},{"row":34,"gene":"LRP6","tpm":8},{"row":34,"gene":"GPC6","tpm":9},{"row":34,"gene":"FZD2","tpm":5},{"row":34,"gene":"FZD8","tpm":5},{"row":34,"gene":"LRP5","tpm":24},{"row":34,"gene":"FZD1","tpm":4},{"row":34,"gene":"FZD6","tpm":4},{"row":34,"gene":"PTK7","tpm":4},{"row":34,"gene":"FZD7","tpm":5},{"row":34,"gene":"GPC4","tpm":5},{"row":34,"gene":"FZD4","tpm":4},{"row":34,"gene":"RYK","tpm":7},{"row":34,"gene":"SDC1","tpm":100},{"row":34,"gene":"SDC4","tpm":100},
{"row":35,"gene":"SDC2","tpm":42},{"row":35,"gene":"GPC3","tpm":6},{"row":35,"gene":"SDC3","tpm":6},{"row":35,"gene":"GPC1","tpm":7},{"row":35,"gene":"FZD5","tpm":9},{"row":35,"gene":"FZD10","tpm":6},{"row":35,"gene":"ROR1","tpm":6},{"row":35,"gene":"FZD3","tpm":5},{"row":35,"gene":"GPC5","tpm":5},{"row":35,"gene":"GPC2","tpm":5},{"row":35,"gene":"FZD9","tpm":5},{"row":35,"gene":"MUSK","tpm":5},{"row":35,"gene":"ROR2","tpm":6},{"row":35,"gene":"LRP6","tpm":11},{"row":35,"gene":"GPC6","tpm":6},{"row":35,"gene":"FZD2","tpm":5},{"row":35,"gene":"FZD8","tpm":5},{"row":35,"gene":"LRP5","tpm":18},{"row":35,"gene":"FZD1","tpm":4},{"row":35,"gene":"FZD6","tpm":4},{"row":35,"gene":"PTK7","tpm":4},{"row":35,"gene":"FZD7","tpm":5},{"row":35,"gene":"GPC4","tpm":7},{"row":35,"gene":"FZD4","tpm":5},{"row":35,"gene":"RYK","tpm":6},{"row":35,"gene":"SDC1","tpm":88},{"row":35,"gene":"SDC4","tpm":100},
{"row":36,"gene":"SDC2","tpm":14},{"row":36,"gene":"GPC3","tpm":5},{"row":36,"gene":"SDC3","tpm":9},{"row":36,"gene":"GPC1","tpm":8},{"row":36,"gene":"FZD5","tpm":10},{"row":36,"gene":"FZD10","tpm":6},{"row":36,"gene":"ROR1","tpm":5},{"row":36,"gene":"FZD3","tpm":5},{"row":36,"gene":"GPC5","tpm":5},{"row":36,"gene":"GPC2","tpm":5},{"row":36,"gene":"FZD9","tpm":5},{"row":36,"gene":"MUSK","tpm":5},{"row":36,"gene":"ROR2","tpm":6},{"row":36,"gene":"LRP6","tpm":8},{"row":36,"gene":"GPC6","tpm":5},{"row":36,"gene":"FZD2","tpm":5},{"row":36,"gene":"FZD8","tpm":7},{"row":36,"gene":"LRP5","tpm":16},{"row":36,"gene":"FZD1","tpm":4},{"row":36,"gene":"FZD6","tpm":4},{"row":36,"gene":"PTK7","tpm":4},{"row":36,"gene":"FZD7","tpm":6},{"row":36,"gene":"GPC4","tpm":7},{"row":36,"gene":"FZD4","tpm":6},{"row":36,"gene":"RYK","tpm":7},{"row":36,"gene":"SDC1","tpm":70},{"row":36,"gene":"SDC4","tpm":100},
{"row":37,"gene":"SDC2","tpm":14},{"row":37,"gene":"GPC3","tpm":5},{"row":37,"gene":"SDC3","tpm":13},{"row":37,"gene":"GPC1","tpm":10},{"row":37,"gene":"FZD5","tpm":18},{"row":37,"gene":"FZD10","tpm":7},{"row":37,"gene":"ROR1","tpm":5},{"row":37,"gene":"FZD3","tpm":5},{"row":37,"gene":"GPC5","tpm":5},{"row":37,"gene":"GPC2","tpm":5},{"row":37,"gene":"FZD9","tpm":5},{"row":37,"gene":"MUSK","tpm":5},{"row":37,"gene":"ROR2","tpm":5},{"row":37,"gene":"LRP6","tpm":6},{"row":37,"gene":"GPC6","tpm":7},{"row":37,"gene":"FZD2","tpm":5},{"row":37,"gene":"FZD8","tpm":6},{"row":37,"gene":"LRP5","tpm":20},{"row":37,"gene":"FZD1","tpm":8},{"row":37,"gene":"FZD6","tpm":11},{"row":37,"gene":"PTK7","tpm":12},{"row":37,"gene":"FZD7","tpm":10},{"row":37,"gene":"GPC4","tpm":7},{"row":37,"gene":"FZD4","tpm":7},{"row":37,"gene":"RYK","tpm":10},{"row":37,"gene":"SDC1","tpm":40},{"row":37,"gene":"SDC4","tpm":45},
{"row":38,"gene":"SDC2","tpm":27},{"row":38,"gene":"GPC3","tpm":5},{"row":38,"gene":"SDC3","tpm":35},{"row":38,"gene":"GPC1","tpm":15},{"row":38,"gene":"FZD5","tpm":12},{"row":38,"gene":"FZD10","tpm":5},{"row":38,"gene":"ROR1","tpm":5},{"row":38,"gene":"FZD3","tpm":5},{"row":38,"gene":"GPC5","tpm":5},{"row":38,"gene":"GPC2","tpm":5},{"row":38,"gene":"FZD9","tpm":5},{"row":38,"gene":"MUSK","tpm":5},{"row":38,"gene":"ROR2","tpm":22},{"row":38,"gene":"LRP6","tpm":8},{"row":38,"gene":"GPC6","tpm":6},{"row":38,"gene":"FZD2","tpm":5},{"row":38,"gene":"FZD8","tpm":7},{"row":38,"gene":"LRP5","tpm":20},{"row":38,"gene":"FZD1","tpm":6},{"row":38,"gene":"FZD6","tpm":10},{"row":38,"gene":"PTK7","tpm":5},{"row":38,"gene":"FZD7","tpm":24},{"row":38,"gene":"GPC4","tpm":17},{"row":38,"gene":"FZD4","tpm":8},{"row":38,"gene":"RYK","tpm":8},{"row":38,"gene":"SDC1","tpm":4},{"row":38,"gene":"SDC4","tpm":60},
{"row":39,"gene":"SDC2","tpm":10},{"row":39,"gene":"GPC3","tpm":5},{"row":39,"gene":"SDC3","tpm":13},{"row":39,"gene":"GPC1","tpm":11},{"row":39,"gene":"FZD5","tpm":12},{"row":39,"gene":"FZD10","tpm":5},{"row":39,"gene":"ROR1","tpm":5},{"row":39,"gene":"FZD3","tpm":6},{"row":39,"gene":"GPC5","tpm":5},{"row":39,"gene":"GPC2","tpm":5},{"row":39,"gene":"FZD9","tpm":5},{"row":39,"gene":"MUSK","tpm":5},{"row":39,"gene":"ROR2","tpm":5},{"row":39,"gene":"LRP6","tpm":7},{"row":39,"gene":"GPC6","tpm":5},{"row":39,"gene":"FZD2","tpm":5},{"row":39,"gene":"FZD8","tpm":6},{"row":39,"gene":"LRP5","tpm":34},{"row":39,"gene":"FZD1","tpm":6},{"row":39,"gene":"FZD6","tpm":8},{"row":39,"gene":"PTK7","tpm":8},{"row":39,"gene":"FZD7","tpm":9},{"row":39,"gene":"GPC4","tpm":8},{"row":39,"gene":"FZD4","tpm":4},{"row":39,"gene":"RYK","tpm":8},{"row":39,"gene":"SDC1","tpm":85},{"row":39,"gene":"SDC4","tpm":80},
{"row":40,"gene":"SDC2","tpm":17},{"row":40,"gene":"GPC3","tpm":5},{"row":40,"gene":"SDC3","tpm":28},{"row":40,"gene":"GPC1","tpm":15},{"row":40,"gene":"FZD5","tpm":7},{"row":40,"gene":"FZD10","tpm":6},{"row":40,"gene":"ROR1","tpm":5},{"row":40,"gene":"FZD3","tpm":5},{"row":40,"gene":"GPC5","tpm":5},{"row":40,"gene":"GPC2","tpm":5},{"row":40,"gene":"FZD9","tpm":5},{"row":40,"gene":"MUSK","tpm":5},{"row":40,"gene":"ROR2","tpm":14},{"row":40,"gene":"LRP6","tpm":8},{"row":40,"gene":"GPC6","tpm":6},{"row":40,"gene":"FZD2","tpm":5},{"row":40,"gene":"FZD8","tpm":5},{"row":40,"gene":"LRP5","tpm":18},{"row":40,"gene":"FZD1","tpm":10},{"row":40,"gene":"FZD6","tpm":10},{"row":40,"gene":"PTK7","tpm":5},{"row":40,"gene":"FZD7","tpm":22},{"row":40,"gene":"GPC4","tpm":20},{"row":40,"gene":"FZD4","tpm":7},{"row":40,"gene":"RYK","tpm":9},{"row":40,"gene":"SDC1","tpm":5},{"row":40,"gene":"SDC4","tpm":40},
{"row":41,"gene":"SDC2","tpm":9},{"row":41,"gene":"GPC3","tpm":5},{"row":41,"gene":"SDC3","tpm":8},{"row":41,"gene":"GPC1","tpm":33},{"row":41,"gene":"FZD5","tpm":6},{"row":41,"gene":"FZD10","tpm":12},{"row":41,"gene":"ROR1","tpm":5},{"row":41,"gene":"FZD3","tpm":5},{"row":41,"gene":"GPC5","tpm":5},{"row":41,"gene":"GPC2","tpm":5},{"row":41,"gene":"FZD9","tpm":5},{"row":41,"gene":"MUSK","tpm":5},{"row":41,"gene":"ROR2","tpm":7},{"row":41,"gene":"LRP6","tpm":7},{"row":41,"gene":"GPC6","tpm":6},{"row":41,"gene":"FZD2","tpm":6},{"row":41,"gene":"FZD8","tpm":6},{"row":41,"gene":"LRP5","tpm":11},{"row":41,"gene":"FZD1","tpm":7},{"row":41,"gene":"FZD6","tpm":10},{"row":41,"gene":"PTK7","tpm":8},{"row":41,"gene":"FZD7","tpm":10},{"row":41,"gene":"GPC4","tpm":6},{"row":41,"gene":"FZD4","tpm":8},{"row":41,"gene":"RYK","tpm":9},{"row":41,"gene":"SDC1","tpm":100},{"row":41,"gene":"SDC4","tpm":60},
{"row":42,"gene":"SDC2","tpm":26},{"row":42,"gene":"GPC3","tpm":8},{"row":42,"gene":"SDC3","tpm":27},{"row":42,"gene":"GPC1","tpm":18},{"row":42,"gene":"FZD5","tpm":6},{"row":42,"gene":"FZD10","tpm":9},{"row":42,"gene":"ROR1","tpm":5},{"row":42,"gene":"FZD3","tpm":6},{"row":42,"gene":"GPC5","tpm":5},{"row":42,"gene":"GPC2","tpm":5},{"row":42,"gene":"FZD9","tpm":5},{"row":42,"gene":"MUSK","tpm":5},{"row":42,"gene":"ROR2","tpm":14},{"row":42,"gene":"LRP6","tpm":8},{"row":42,"gene":"GPC6","tpm":6},{"row":42,"gene":"FZD2","tpm":6},{"row":42,"gene":"FZD8","tpm":6},{"row":42,"gene":"LRP5","tpm":19},{"row":42,"gene":"FZD1","tpm":8},{"row":42,"gene":"FZD6","tpm":12},{"row":42,"gene":"PTK7","tpm":5},{"row":42,"gene":"FZD7","tpm":19},{"row":42,"gene":"GPC4","tpm":22},{"row":42,"gene":"FZD4","tpm":9},{"row":42,"gene":"RYK","tpm":9},{"row":42,"gene":"SDC1","tpm":5},{"row":42,"gene":"SDC4","tpm":35},
{"row":43,"gene":"SDC2","tpm":11},{"row":43,"gene":"GPC3","tpm":6},{"row":43,"gene":"SDC3","tpm":10},{"row":43,"gene":"GPC1","tpm":12},{"row":43,"gene":"FZD5","tpm":10},{"row":43,"gene":"FZD10","tpm":5},{"row":43,"gene":"ROR1","tpm":5},{"row":43,"gene":"FZD3","tpm":5},{"row":43,"gene":"GPC5","tpm":5},{"row":43,"gene":"GPC2","tpm":5},{"row":43,"gene":"FZD9","tpm":5},{"row":43,"gene":"MUSK","tpm":5},{"row":43,"gene":"ROR2","tpm":5},{"row":43,"gene":"LRP6","tpm":9},{"row":43,"gene":"GPC6","tpm":6},{"row":43,"gene":"FZD2","tpm":5},{"row":43,"gene":"FZD8","tpm":8},{"row":43,"gene":"LRP5","tpm":24},{"row":43,"gene":"FZD1","tpm":8},{"row":43,"gene":"FZD6","tpm":10},{"row":43,"gene":"PTK7","tpm":9},{"row":43,"gene":"FZD7","tpm":6},{"row":43,"gene":"GPC4","tpm":8},{"row":43,"gene":"FZD4","tpm":7},{"row":43,"gene":"RYK","tpm":8},{"row":43,"gene":"SDC1","tpm":42},{"row":43,"gene":"SDC4","tpm":100},
{"row":44,"gene":"SDC2","tpm":14},{"row":44,"gene":"GPC3","tpm":10},{"row":44,"gene":"SDC3","tpm":10},{"row":44,"gene":"GPC1","tpm":22},{"row":44,"gene":"FZD5","tpm":5},{"row":44,"gene":"FZD10","tpm":7},{"row":44,"gene":"ROR1","tpm":5},{"row":44,"gene":"FZD3","tpm":6},{"row":44,"gene":"GPC5","tpm":5},{"row":44,"gene":"GPC2","tpm":5},{"row":44,"gene":"FZD9","tpm":5},{"row":44,"gene":"MUSK","tpm":5},{"row":44,"gene":"ROR2","tpm":8},{"row":44,"gene":"LRP6","tpm":8},{"row":44,"gene":"GPC6","tpm":6},{"row":44,"gene":"FZD2","tpm":6},{"row":44,"gene":"FZD8","tpm":7},{"row":44,"gene":"LRP5","tpm":27},{"row":44,"gene":"FZD1","tpm":8},{"row":44,"gene":"FZD6","tpm":12},{"row":44,"gene":"PTK7","tpm":10},{"row":44,"gene":"FZD7","tpm":12},{"row":44,"gene":"GPC4","tpm":5},{"row":44,"gene":"FZD4","tpm":7},{"row":44,"gene":"RYK","tpm":8},{"row":44,"gene":"SDC1","tpm":30},{"row":44,"gene":"SDC4","tpm":78},
{"row":45,"gene":"SDC2","tpm":7},{"row":45,"gene":"GPC3","tpm":6},{"row":45,"gene":"SDC3","tpm":5},{"row":45,"gene":"GPC1","tpm":28},{"row":45,"gene":"FZD5","tpm":5},{"row":45,"gene":"FZD10","tpm":5},{"row":45,"gene":"ROR1","tpm":5},{"row":45,"gene":"FZD3","tpm":5},{"row":45,"gene":"GPC5","tpm":5},{"row":45,"gene":"GPC2","tpm":5},{"row":45,"gene":"FZD9","tpm":5},{"row":45,"gene":"MUSK","tpm":5},{"row":45,"gene":"ROR2","tpm":5},{"row":45,"gene":"LRP6","tpm":6},{"row":45,"gene":"GPC6","tpm":5},{"row":45,"gene":"FZD2","tpm":5},{"row":45,"gene":"FZD8","tpm":5},{"row":45,"gene":"LRP5","tpm":12},{"row":45,"gene":"FZD1","tpm":10},{"row":45,"gene":"FZD6","tpm":10},{"row":45,"gene":"PTK7","tpm":6},{"row":45,"gene":"FZD7","tpm":7},{"row":45,"gene":"GPC4","tpm":8},{"row":45,"gene":"FZD4","tpm":5},{"row":45,"gene":"RYK","tpm":8},{"row":45,"gene":"SDC1","tpm":100},{"row":45,"gene":"SDC4","tpm":100},
{"row":46,"gene":"SDC2","tpm":8},{"row":46,"gene":"GPC3","tpm":5},{"row":46,"gene":"SDC3","tpm":11},{"row":46,"gene":"GPC1","tpm":45},{"row":46,"gene":"FZD5","tpm":6},{"row":46,"gene":"FZD10","tpm":8},{"row":46,"gene":"ROR1","tpm":5},{"row":46,"gene":"FZD3","tpm":6},{"row":46,"gene":"GPC5","tpm":5},{"row":46,"gene":"GPC2","tpm":5},{"row":46,"gene":"FZD9","tpm":5},{"row":46,"gene":"MUSK","tpm":5},{"row":46,"gene":"ROR2","tpm":6},{"row":46,"gene":"LRP6","tpm":6},{"row":46,"gene":"GPC6","tpm":6},{"row":46,"gene":"FZD2","tpm":5},{"row":46,"gene":"FZD8","tpm":5},{"row":46,"gene":"LRP5","tpm":10},{"row":46,"gene":"FZD1","tpm":8},{"row":46,"gene":"FZD6","tpm":27},{"row":46,"gene":"PTK7","tpm":20},{"row":46,"gene":"FZD7","tpm":9},{"row":46,"gene":"GPC4","tpm":8},{"row":46,"gene":"FZD4","tpm":4},{"row":46,"gene":"RYK","tpm":8},{"row":46,"gene":"SDC1","tpm":100},{"row":46,"gene":"SDC4","tpm":100},
{"row":47,"gene":"SDC2","tpm":15},{"row":47,"gene":"GPC3","tpm":70},{"row":47,"gene":"SDC3","tpm":15},{"row":47,"gene":"GPC1","tpm":12},{"row":47,"gene":"FZD5","tpm":8},{"row":47,"gene":"FZD10","tpm":5},{"row":47,"gene":"ROR1","tpm":5},{"row":47,"gene":"FZD3","tpm":5},{"row":47,"gene":"GPC5","tpm":5},{"row":47,"gene":"GPC2","tpm":5},{"row":47,"gene":"FZD9","tpm":5},{"row":47,"gene":"MUSK","tpm":5},{"row":47,"gene":"ROR2","tpm":6},{"row":47,"gene":"LRP6","tpm":9},{"row":47,"gene":"GPC6","tpm":6},{"row":47,"gene":"FZD2","tpm":6},{"row":47,"gene":"FZD8","tpm":7},{"row":47,"gene":"LRP5","tpm":16},{"row":47,"gene":"FZD1","tpm":13},{"row":47,"gene":"FZD6","tpm":11},{"row":47,"gene":"PTK7","tpm":15},{"row":47,"gene":"FZD7","tpm":7},{"row":47,"gene":"GPC4","tpm":14},{"row":47,"gene":"FZD4","tpm":22},{"row":47,"gene":"RYK","tpm":9},{"row":47,"gene":"SDC1","tpm":35},{"row":47,"gene":"SDC4","tpm":95},
{"row":48,"gene":"SDC2","tpm":24},{"row":48,"gene":"GPC3","tpm":63},{"row":48,"gene":"SDC3","tpm":26},{"row":48,"gene":"GPC1","tpm":11},{"row":48,"gene":"FZD5","tpm":9},{"row":48,"gene":"FZD10","tpm":5},{"row":48,"gene":"ROR1","tpm":6},{"row":48,"gene":"FZD3","tpm":5},{"row":48,"gene":"GPC5","tpm":5},{"row":48,"gene":"GPC2","tpm":5},{"row":48,"gene":"FZD9","tpm":5},{"row":48,"gene":"MUSK","tpm":5},{"row":48,"gene":"ROR2","tpm":6},{"row":48,"gene":"LRP6","tpm":9},{"row":48,"gene":"GPC6","tpm":6},{"row":48,"gene":"FZD2","tpm":8},{"row":48,"gene":"FZD8","tpm":7},{"row":48,"gene":"LRP5","tpm":14},{"row":48,"gene":"FZD1","tpm":18},{"row":48,"gene":"FZD6","tpm":22},{"row":48,"gene":"PTK7","tpm":15},{"row":48,"gene":"FZD7","tpm":12},{"row":48,"gene":"GPC4","tpm":28},{"row":48,"gene":"FZD4","tpm":18},{"row":48,"gene":"RYK","tpm":8},{"row":48,"gene":"SDC1","tpm":62},{"row":48,"gene":"SDC4","tpm":100},
{"row":49,"gene":"SDC2","tpm":17},{"row":49,"gene":"GPC3","tpm":50},{"row":49,"gene":"SDC3","tpm":12},{"row":49,"gene":"GPC1","tpm":47},{"row":49,"gene":"FZD5","tpm":5},{"row":49,"gene":"FZD10","tpm":7},{"row":49,"gene":"ROR1","tpm":5},{"row":49,"gene":"FZD3","tpm":5},{"row":49,"gene":"GPC5","tpm":5},{"row":49,"gene":"GPC2","tpm":5},{"row":49,"gene":"FZD9","tpm":5},{"row":49,"gene":"MUSK","tpm":5},{"row":49,"gene":"ROR2","tpm":6},{"row":49,"gene":"LRP6","tpm":7},{"row":49,"gene":"GPC6","tpm":6},{"row":49,"gene":"FZD2","tpm":7},{"row":49,"gene":"FZD8","tpm":7},{"row":49,"gene":"LRP5","tpm":18},{"row":49,"gene":"FZD1","tpm":9},{"row":49,"gene":"FZD6","tpm":37},{"row":49,"gene":"PTK7","tpm":20},{"row":49,"gene":"FZD7","tpm":10},{"row":49,"gene":"GPC4","tpm":16},{"row":49,"gene":"FZD4","tpm":5},{"row":49,"gene":"RYK","tpm":12},{"row":49,"gene":"SDC1","tpm":100},{"row":49,"gene":"SDC4","tpm":80},
{"row":50,"gene":"SDC2","tpm":24},{"row":50,"gene":"GPC3","tpm":55},{"row":50,"gene":"SDC3","tpm":16},{"row":50,"gene":"GPC1","tpm":10},{"row":50,"gene":"FZD5","tpm":10},{"row":50,"gene":"FZD10","tpm":5},{"row":50,"gene":"ROR1","tpm":8},{"row":50,"gene":"FZD3","tpm":5},{"row":50,"gene":"GPC5","tpm":5},{"row":50,"gene":"GPC2","tpm":5},{"row":50,"gene":"FZD9","tpm":5},{"row":50,"gene":"MUSK","tpm":5},{"row":50,"gene":"ROR2","tpm":7},{"row":50,"gene":"LRP6","tpm":9},{"row":50,"gene":"GPC6","tpm":6},{"row":50,"gene":"FZD2","tpm":8},{"row":50,"gene":"FZD8","tpm":11},{"row":50,"gene":"LRP5","tpm":22},{"row":50,"gene":"FZD1","tpm":16},{"row":50,"gene":"FZD6","tpm":24},{"row":50,"gene":"PTK7","tpm":18},{"row":50,"gene":"FZD7","tpm":8},{"row":50,"gene":"GPC4","tpm":24},{"row":50,"gene":"FZD4","tpm":8},{"row":50,"gene":"RYK","tpm":8},{"row":50,"gene":"SDC1","tpm":100},{"row":50,"gene":"SDC4","tpm":100},
{"row":51,"gene":"SDC2","tpm":11},{"row":51,"gene":"GPC3","tpm":8},{"row":51,"gene":"SDC3","tpm":17},{"row":51,"gene":"GPC1","tpm":10},{"row":51,"gene":"FZD5","tpm":9},{"row":51,"gene":"FZD10","tpm":5},{"row":51,"gene":"ROR1","tpm":6},{"row":51,"gene":"FZD3","tpm":5},{"row":51,"gene":"GPC5","tpm":5},{"row":51,"gene":"GPC2","tpm":5},{"row":51,"gene":"FZD9","tpm":5},{"row":51,"gene":"MUSK","tpm":5},{"row":51,"gene":"ROR2","tpm":5},{"row":51,"gene":"LRP6","tpm":9},{"row":51,"gene":"GPC6","tpm":6},{"row":51,"gene":"FZD2","tpm":6},{"row":51,"gene":"FZD8","tpm":7},{"row":51,"gene":"LRP5","tpm":30},{"row":51,"gene":"FZD1","tpm":12},{"row":51,"gene":"FZD6","tpm":18},{"row":51,"gene":"PTK7","tpm":25},{"row":51,"gene":"FZD7","tpm":6},{"row":51,"gene":"GPC4","tpm":12},{"row":51,"gene":"FZD4","tpm":8},{"row":51,"gene":"RYK","tpm":7},{"row":51,"gene":"SDC1","tpm":100},{"row":51,"gene":"SDC4","tpm":100},
{"row":52,"gene":"SDC2","tpm":14},{"row":52,"gene":"GPC3","tpm":8},{"row":52,"gene":"SDC3","tpm":11},{"row":52,"gene":"GPC1","tpm":11},{"row":52,"gene":"FZD5","tpm":9},{"row":52,"gene":"FZD10","tpm":5},{"row":52,"gene":"ROR1","tpm":5},{"row":52,"gene":"FZD3","tpm":5},{"row":52,"gene":"GPC5","tpm":5},{"row":52,"gene":"GPC2","tpm":5},{"row":52,"gene":"FZD9","tpm":5},{"row":52,"gene":"MUSK","tpm":5},{"row":52,"gene":"ROR2","tpm":6},{"row":52,"gene":"LRP6","tpm":8},{"row":52,"gene":"GPC6","tpm":7},{"row":52,"gene":"FZD2","tpm":5},{"row":52,"gene":"FZD8","tpm":8},{"row":52,"gene":"LRP5","tpm":18},{"row":52,"gene":"FZD1","tpm":6},{"row":52,"gene":"FZD6","tpm":9},{"row":52,"gene":"PTK7","tpm":6},{"row":52,"gene":"FZD7","tpm":8},{"row":52,"gene":"GPC4","tpm":8},{"row":52,"gene":"FZD4","tpm":10},{"row":52,"gene":"RYK","tpm":8},{"row":52,"gene":"SDC1","tpm":22},{"row":52,"gene":"SDC4","tpm":70},
{"row":53,"gene":"SDC2","tpm":10},{"row":53,"gene":"GPC3","tpm":5},{"row":53,"gene":"SDC3","tpm":11},{"row":53,"gene":"GPC1","tpm":20},{"row":53,"gene":"FZD5","tpm":8},{"row":53,"gene":"FZD10","tpm":8},{"row":53,"gene":"ROR1","tpm":6},{"row":53,"gene":"FZD3","tpm":5},{"row":53,"gene":"GPC5","tpm":5},{"row":53,"gene":"GPC2","tpm":5},{"row":53,"gene":"FZD9","tpm":5},{"row":53,"gene":"MUSK","tpm":5},{"row":53,"gene":"ROR2","tpm":6},{"row":53,"gene":"LRP6","tpm":8},{"row":53,"gene":"GPC6","tpm":5},{"row":53,"gene":"FZD2","tpm":5},{"row":53,"gene":"FZD8","tpm":7},{"row":53,"gene":"LRP5","tpm":21},{"row":53,"gene":"FZD1","tpm":9},{"row":53,"gene":"FZD6","tpm":10},{"row":53,"gene":"PTK7","tpm":7},{"row":53,"gene":"FZD7","tpm":9},{"row":53,"gene":"GPC4","tpm":7},{"row":53,"gene":"FZD4","tpm":9},{"row":53,"gene":"RYK","tpm":9},{"row":53,"gene":"SDC1","tpm":100},{"row":53,"gene":"SDC4","tpm":48},
{"row":54,"gene":"SDC2","tpm":12},{"row":54,"gene":"GPC3","tpm":6},{"row":54,"gene":"SDC3","tpm":16},{"row":54,"gene":"GPC1","tpm":13},{"row":54,"gene":"FZD5","tpm":16},{"row":54,"gene":"FZD10","tpm":5},{"row":54,"gene":"ROR1","tpm":5},{"row":54,"gene":"FZD3","tpm":5},{"row":54,"gene":"GPC5","tpm":5},{"row":54,"gene":"GPC2","tpm":5},{"row":54,"gene":"FZD9","tpm":5},{"row":54,"gene":"MUSK","tpm":5},{"row":54,"gene":"ROR2","tpm":8},{"row":54,"gene":"LRP6","tpm":7},{"row":54,"gene":"GPC6","tpm":7},{"row":54,"gene":"FZD2","tpm":6},{"row":54,"gene":"FZD8","tpm":7},{"row":54,"gene":"LRP5","tpm":30},{"row":54,"gene":"FZD1","tpm":8},{"row":54,"gene":"FZD6","tpm":11},{"row":54,"gene":"PTK7","tpm":10},{"row":54,"gene":"FZD7","tpm":8},{"row":54,"gene":"GPC4","tpm":7},{"row":54,"gene":"FZD4","tpm":7},{"row":54,"gene":"RYK","tpm":10},{"row":54,"gene":"SDC1","tpm":65},{"row":54,"gene":"SDC4","tpm":100},
{"row":55,"gene":"SDC2","tpm":33},{"row":55,"gene":"GPC3","tpm":10},{"row":55,"gene":"SDC3","tpm":24},{"row":55,"gene":"GPC1","tpm":18},{"row":55,"gene":"FZD5","tpm":5},{"row":55,"gene":"FZD10","tpm":5},{"row":55,"gene":"ROR1","tpm":5},{"row":55,"gene":"FZD3","tpm":5},{"row":55,"gene":"GPC5","tpm":5},{"row":55,"gene":"GPC2","tpm":5},{"row":55,"gene":"FZD9","tpm":5},{"row":55,"gene":"MUSK","tpm":5},{"row":55,"gene":"ROR2","tpm":16},{"row":55,"gene":"LRP6","tpm":8},{"row":55,"gene":"GPC6","tpm":6},{"row":55,"gene":"FZD2","tpm":5},{"row":55,"gene":"FZD8","tpm":5},{"row":55,"gene":"LRP5","tpm":20},{"row":55,"gene":"FZD1","tpm":12},{"row":55,"gene":"FZD6","tpm":14},{"row":55,"gene":"PTK7","tpm":10},{"row":55,"gene":"FZD7","tpm":23},{"row":55,"gene":"GPC4","tpm":10},{"row":55,"gene":"FZD4","tpm":14},{"row":55,"gene":"RYK","tpm":8},{"row":55,"gene":"SDC1","tpm":90},{"row":55,"gene":"SDC4","tpm":62},
{"row":56,"gene":"SDC2","tpm":32},{"row":56,"gene":"GPC3","tpm":8},{"row":56,"gene":"SDC3","tpm":24},{"row":56,"gene":"GPC1","tpm":16},{"row":56,"gene":"FZD5","tpm":5},{"row":56,"gene":"FZD10","tpm":5},{"row":56,"gene":"ROR1","tpm":5},{"row":56,"gene":"FZD3","tpm":5},{"row":56,"gene":"GPC5","tpm":5},{"row":56,"gene":"GPC2","tpm":5},{"row":56,"gene":"FZD9","tpm":5},{"row":56,"gene":"MUSK","tpm":5},{"row":56,"gene":"ROR2","tpm":11},{"row":56,"gene":"LRP6","tpm":8},{"row":56,"gene":"GPC6","tpm":6},{"row":56,"gene":"FZD2","tpm":5},{"row":56,"gene":"FZD8","tpm":5},{"row":56,"gene":"LRP5","tpm":18},{"row":56,"gene":"FZD1","tpm":11},{"row":56,"gene":"FZD6","tpm":12},{"row":56,"gene":"PTK7","tpm":6},{"row":56,"gene":"FZD7","tpm":25},{"row":56,"gene":"GPC4","tpm":10},{"row":56,"gene":"FZD4","tpm":6},{"row":56,"gene":"RYK","tpm":6},{"row":56,"gene":"SDC1","tpm":100},{"row":56,"gene":"SDC4","tpm":100},
{"row":57,"gene":"SDC2","tpm":9},{"row":57,"gene":"GPC3","tpm":5},{"row":57,"gene":"SDC3","tpm":10},{"row":57,"gene":"GPC1","tpm":28},{"row":57,"gene":"FZD5","tpm":5},{"row":57,"gene":"FZD10","tpm":5},{"row":57,"gene":"ROR1","tpm":5},{"row":57,"gene":"FZD3","tpm":5},{"row":57,"gene":"GPC5","tpm":5},{"row":57,"gene":"GPC2","tpm":5},{"row":57,"gene":"FZD9","tpm":5},{"row":57,"gene":"MUSK","tpm":5},{"row":57,"gene":"ROR2","tpm":5},{"row":57,"gene":"LRP6","tpm":5},{"row":57,"gene":"GPC6","tpm":5},{"row":57,"gene":"FZD2","tpm":7},{"row":57,"gene":"FZD8","tpm":5},{"row":57,"gene":"LRP5","tpm":18},{"row":57,"gene":"FZD1","tpm":17},{"row":57,"gene":"FZD6","tpm":24},{"row":57,"gene":"PTK7","tpm":14},{"row":57,"gene":"FZD7","tpm":6},{"row":57,"gene":"GPC4","tpm":5},{"row":57,"gene":"FZD4","tpm":4},{"row":57,"gene":"RYK","tpm":8},{"row":57,"gene":"SDC1","tpm":100},{"row":57,"gene":"SDC4","tpm":100},
{"row":58,"gene":"SDC2","tpm":15},{"row":58,"gene":"GPC3","tpm":5},{"row":58,"gene":"SDC3","tpm":35},{"row":58,"gene":"GPC1","tpm":16},{"row":58,"gene":"FZD5","tpm":5},{"row":58,"gene":"FZD10","tpm":6},{"row":58,"gene":"ROR1","tpm":5},{"row":58,"gene":"FZD3","tpm":6},{"row":58,"gene":"GPC5","tpm":6},{"row":58,"gene":"GPC2","tpm":5},{"row":58,"gene":"FZD9","tpm":5},{"row":58,"gene":"MUSK","tpm":6},{"row":58,"gene":"ROR2","tpm":6},{"row":58,"gene":"LRP6","tpm":6},{"row":58,"gene":"GPC6","tpm":6},{"row":58,"gene":"FZD2","tpm":6},{"row":58,"gene":"FZD8","tpm":6},{"row":58,"gene":"LRP5","tpm":5},{"row":58,"gene":"FZD1","tpm":5},{"row":58,"gene":"FZD6","tpm":5},{"row":58,"gene":"PTK7","tpm":5},{"row":58,"gene":"FZD7","tpm":5},{"row":58,"gene":"GPC4","tpm":5},{"row":58,"gene":"FZD4","tpm":5},{"row":58,"gene":"RYK","tpm":5},{"row":58,"gene":"SDC1","tpm":5},{"row":58,"gene":"SDC4","tpm":28},
{"row":59,"gene":"SDC2","tpm":9},{"row":59,"gene":"GPC3","tpm":5},{"row":59,"gene":"SDC3","tpm":92},{"row":59,"gene":"GPC1","tpm":26},{"row":59,"gene":"FZD5","tpm":5},{"row":59,"gene":"FZD10","tpm":5},{"row":59,"gene":"ROR1","tpm":5},{"row":59,"gene":"FZD3","tpm":7},{"row":59,"gene":"GPC5","tpm":7},{"row":59,"gene":"GPC2","tpm":7},{"row":59,"gene":"FZD9","tpm":5},{"row":59,"gene":"MUSK","tpm":5},{"row":59,"gene":"ROR2","tpm":6},{"row":59,"gene":"LRP6","tpm":8},{"row":59,"gene":"GPC6","tpm":6},{"row":59,"gene":"FZD2","tpm":6},{"row":59,"gene":"FZD8","tpm":6},{"row":59,"gene":"LRP5","tpm":8},{"row":59,"gene":"FZD1","tpm":6},{"row":59,"gene":"FZD6","tpm":6},{"row":59,"gene":"PTK7","tpm":6},{"row":59,"gene":"FZD7","tpm":6},{"row":59,"gene":"GPC4","tpm":6},{"row":59,"gene":"FZD4","tpm":6},{"row":59,"gene":"RYK","tpm":7},{"row":59,"gene":"SDC1","tpm":6},{"row":59,"gene":"SDC4","tpm":14},
{"row":60,"gene":"SDC2","tpm":18},{"row":60,"gene":"GPC3","tpm":5},{"row":60,"gene":"SDC3","tpm":100},{"row":60,"gene":"GPC1","tpm":53},{"row":60,"gene":"FZD5","tpm":5},{"row":60,"gene":"FZD10","tpm":5},{"row":60,"gene":"ROR1","tpm":7},{"row":60,"gene":"FZD3","tpm":6},{"row":60,"gene":"GPC5","tpm":7},{"row":60,"gene":"GPC2","tpm":5},{"row":60,"gene":"FZD9","tpm":5},{"row":60,"gene":"MUSK","tpm":5},{"row":60,"gene":"ROR2","tpm":5},{"row":60,"gene":"LRP6","tpm":6},{"row":60,"gene":"GPC6","tpm":5},{"row":60,"gene":"FZD2","tpm":6},{"row":60,"gene":"FZD8","tpm":6},{"row":60,"gene":"LRP5","tpm":9},{"row":60,"gene":"FZD1","tpm":6},{"row":60,"gene":"FZD6","tpm":6},{"row":60,"gene":"PTK7","tpm":6},{"row":60,"gene":"FZD7","tpm":7},{"row":60,"gene":"GPC4","tpm":5},{"row":60,"gene":"FZD4","tpm":6},{"row":60,"gene":"RYK","tpm":7},{"row":60,"gene":"SDC1","tpm":7},{"row":60,"gene":"SDC4","tpm":30},
{"row":61,"gene":"SDC2","tpm":5},{"row":61,"gene":"GPC3","tpm":5},{"row":61,"gene":"SDC3","tpm":5},{"row":61,"gene":"GPC1","tpm":4},{"row":61,"gene":"FZD5","tpm":4},{"row":61,"gene":"FZD10","tpm":4},{"row":61,"gene":"ROR1","tpm":5},{"row":61,"gene":"FZD3","tpm":4},{"row":61,"gene":"GPC5","tpm":4},{"row":61,"gene":"GPC2","tpm":4},{"row":61,"gene":"FZD9","tpm":4},{"row":61,"gene":"MUSK","tpm":4},{"row":61,"gene":"ROR2","tpm":4},{"row":61,"gene":"LRP6","tpm":4},{"row":61,"gene":"GPC6","tpm":5},{"row":61,"gene":"FZD2","tpm":4},{"row":61,"gene":"FZD8","tpm":4},{"row":61,"gene":"LRP5","tpm":5},{"row":61,"gene":"FZD1","tpm":4},{"row":61,"gene":"FZD6","tpm":4},{"row":61,"gene":"PTK7","tpm":5},{"row":61,"gene":"FZD7","tpm":5},{"row":61,"gene":"GPC4","tpm":4},{"row":61,"gene":"FZD4","tpm":4},{"row":61,"gene":"RYK","tpm":5},{"row":61,"gene":"SDC1","tpm":4},{"row":61,"gene":"SDC4","tpm":5},
{"row":62,"gene":"SDC2","tpm":7},{"row":62,"gene":"GPC3","tpm":5},{"row":62,"gene":"SDC3","tpm":9},{"row":62,"gene":"GPC1","tpm":4},{"row":62,"gene":"FZD5","tpm":5},{"row":62,"gene":"FZD10","tpm":5},{"row":62,"gene":"ROR1","tpm":5},{"row":62,"gene":"FZD3","tpm":5},{"row":62,"gene":"GPC5","tpm":5},{"row":62,"gene":"GPC2","tpm":5},{"row":62,"gene":"FZD9","tpm":5},{"row":62,"gene":"MUSK","tpm":5},{"row":62,"gene":"ROR2","tpm":5},{"row":62,"gene":"LRP6","tpm":6},{"row":62,"gene":"GPC6","tpm":5},{"row":62,"gene":"FZD2","tpm":5},{"row":62,"gene":"FZD8","tpm":5},{"row":62,"gene":"LRP5","tpm":6},{"row":62,"gene":"FZD1","tpm":5},{"row":62,"gene":"FZD6","tpm":4},{"row":62,"gene":"PTK7","tpm":5},{"row":62,"gene":"FZD7","tpm":5},{"row":62,"gene":"GPC4","tpm":5},{"row":62,"gene":"FZD4","tpm":5},{"row":62,"gene":"RYK","tpm":6},{"row":62,"gene":"SDC1","tpm":4},{"row":62,"gene":"SDC4","tpm":16},
{"row":63,"gene":"SDC2","tpm":5},{"row":63,"gene":"GPC3","tpm":5},{"row":63,"gene":"SDC3","tpm":12},{"row":63,"gene":"GPC1","tpm":4},{"row":63,"gene":"FZD5","tpm":5},{"row":63,"gene":"FZD10","tpm":5},{"row":63,"gene":"ROR1","tpm":5},{"row":63,"gene":"FZD3","tpm":5},{"row":63,"gene":"GPC5","tpm":5},{"row":63,"gene":"GPC2","tpm":5},{"row":63,"gene":"FZD9","tpm":5},{"row":63,"gene":"MUSK","tpm":5},{"row":63,"gene":"ROR2","tpm":5},{"row":63,"gene":"LRP6","tpm":5},{"row":63,"gene":"GPC6","tpm":5},{"row":63,"gene":"FZD2","tpm":5},{"row":63,"gene":"FZD8","tpm":5},{"row":63,"gene":"LRP5","tpm":6},{"row":63,"gene":"FZD1","tpm":5},{"row":63,"gene":"FZD6","tpm":4},{"row":63,"gene":"PTK7","tpm":5},{"row":63,"gene":"FZD7","tpm":5},{"row":63,"gene":"GPC4","tpm":4},{"row":63,"gene":"FZD4","tpm":5},{"row":63,"gene":"RYK","tpm":5},{"row":63,"gene":"SDC1","tpm":5},{"row":63,"gene":"SDC4","tpm":10},
{"row":64,"gene":"SDC2","tpm":5},{"row":64,"gene":"GPC3","tpm":5},{"row":64,"gene":"SDC3","tpm":5},{"row":64,"gene":"GPC1","tpm":5},{"row":64,"gene":"FZD5","tpm":5},{"row":64,"gene":"FZD10","tpm":5},{"row":64,"gene":"ROR1","tpm":12},{"row":64,"gene":"FZD3","tpm":5},{"row":64,"gene":"GPC5","tpm":5},{"row":64,"gene":"GPC2","tpm":5},{"row":64,"gene":"FZD9","tpm":5},{"row":64,"gene":"MUSK","tpm":5},{"row":64,"gene":"ROR2","tpm":5},{"row":64,"gene":"LRP6","tpm":5},{"row":64,"gene":"GPC6","tpm":5},{"row":64,"gene":"FZD2","tpm":5},{"row":64,"gene":"FZD8","tpm":5},{"row":64,"gene":"LRP5","tpm":6},{"row":64,"gene":"FZD1","tpm":5},{"row":64,"gene":"FZD6","tpm":5},{"row":64,"gene":"PTK7","tpm":5},{"row":64,"gene":"FZD7","tpm":5},{"row":64,"gene":"GPC4","tpm":5},{"row":64,"gene":"FZD4","tpm":5},{"row":64,"gene":"RYK","tpm":6},{"row":64,"gene":"SDC1","tpm":5},{"row":64,"gene":"SDC4","tpm":12}
]},
"hconcat":[
{"title":{"text":"A","anchor":"start","fontSize":17,"fontWeight":"bold","dx":-10,"offset":-5},"vconcat":[
 {"hconcat":[
  {"width":344,"height":477,"data":{"name":"cells"},"mark":{"type":"rect","stroke":"#929292","strokeWidth":1.3},"encoding":{"x":{"field":"gene","type":"nominal","sort":null,"scale":{"domain":["SDC2","GPC3","SDC3","GPC1","FZD5","FZD10","ROR1","FZD3","GPC5","GPC2","FZD9","MUSK","ROR2","LRP6","GPC6","FZD2","FZD8","LRP5","FZD1","FZD6","PTK7","FZD7","GPC4","FZD4","RYK","SDC1","SDC4"]},"axis":{"orient":"top","labelAngle":-90,"labelFontSize":10,"labelPadding":5,"labelOffset":1.5,"minExtent":35}},"y":{"field":"row","type":"ordinal","scale":{"domain":[1,2,3,4,5,6,7,8,9,10,11,12,13,14,15,16,17,18,19,20,21,22,23,24,25,26,27,28,29,30,31,32,33,34,35,36,37,38,39,40,41,42,43,44,45,46,47,48,49,50,51,52,53,54,55,56,57,58,59,60,61,62,63,64]},"axis":{"orient":"right","labelExpr":"rowLabels[datum.value-1]","labelFontSize":8.5,"labelPadding":2,"labelOverlap":false,"minExtent":84,"labelColor":{"condition":{"test":"indexof(redRows,datum.value)>=0","value":"#ec2024"},"value":"black"}}},"color":{"field":"tpm","type":"quantitative","scale":{"domain":[110,100,83.3,66.7,50,33.3,20,6,0,-4],"range":["#d73027","#d73027","#fc8d59","#fee090","#ffffbf","#e0f3f8","#91bfdb","#4272b3","#3e6fb1","#3e6fb1"]},"legend":{"title":"TPM value","orient":"none","legendX":345,"legendY":485.5,"direction":"horizontal","gradientLength":83,"gradientThickness":6,"titleAnchor":"middle","titleFontSize":10,"titleFontWeight":"normal","titlePadding":1,"labelFontSize":9,"labelOffset":1,"values":[100,75,50,25,0]}}}},
  {"width":48,"height":477,"data":{"name":"groups"},"encoding":{"x":{"datum":0,"type":"quantitative","scale":{"domain":[0,48]},"axis":null}},"layer":[
   {"mark":{"type":"rule","stroke":"#999999","strokeWidth":1.5,"yOffset":-0.5,"y2Offset":3.5},"encoding":{"y":{"field":"first","type":"ordinal","scale":{"domain":[1,2,3,4,5,6,7,8,9,10,11,12,13,14,15,16,17,18,19,20,21,22,23,24,25,26,27,28,29,30,31,32,33,34,35,36,37,38,39,40,41,42,43,44,45,46,47,48,49,50,51,52,53,54,55,56,57,58,59,60,61,62,63,64]},"axis":null},"y2":{"field":"last"}}},
   {"transform":[{"filter":"datum.even==0"}],"mark":{"type":"text","align":"left","baseline":"middle","fontSize":8.3,"dx":5,"dy":1,"lineBreak":"\n","lineHeight":8},"encoding":{"y":{"field":"mid","type":"ordinal"},"text":{"field":"label"}}},
   {"transform":[{"filter":"datum.even==1"}],"mark":{"type":"text","align":"left","baseline":"middle","fontSize":8.3,"dx":5,"dy":5,"lineBreak":"\n","lineHeight":8},"encoding":{"y":{"field":"mid","type":"ordinal"},"text":{"field":"label"}}}
  ]}
 ]},
 {"width":344,"height":18,"data":{"name":"tree"},"mark":{"type":"rule","stroke":"black","strokeWidth":1},"encoding":{"x":{"field":"x","type":"quantitative","scale":{"domain":[0,27]},"axis":null},"x2":{"field":"x2"},"y":{"field":"y","type":"quantitative","scale":{"domain":[0,18],"reverse":true},"axis":null},"y2":{"field":"y2"}}}
]},
{"title":{"text":"B","anchor":"start","fontSize":17,"fontWeight":"bold","dx":-9,"offset":-5},"vconcat":[
 {"hconcat":[
  {"width":16,"height":104.5,"data":{"name":"cells"},"transform":[{"filter":"datum.gene=='LRP5'&&indexof([30,31,37,38,39,40,41,42,43,52,53,54],datum.row)>=0"}],"mark":{"type":"rect","stroke":"#929292","strokeWidth":1.4},"encoding":{"x":{"field":"gene","type":"nominal","sort":null,"scale":{"domain":["LRP5"]},"axis":{"orient":"top","labelAngle":-90,"labelFontSize":10,"labelPadding":3,"minExtent":36}},"y":{"field":"row","type":"ordinal","scale":{"domain":[30,31,37,38,39,40,41,42,43,52,53,54]},"axis":{"orient":"right","labelExpr":"rowLabels[datum.value-1]","labelFontSize":8.5,"labelPadding":2,"labelOverlap":false,"minExtent":115,"labelColor":{"condition":{"test":"indexof(redRows,datum.value)>=0","value":"#ec2024"},"value":"black"}}},"color":{"field":"tpm","type":"quantitative","scale":{"domain":[110,100,83.3,66.7,50,33.3,20,6,0,-4],"range":["#d73027","#d73027","#fc8d59","#fee090","#ffffbf","#e0f3f8","#91bfdb","#4272b3","#3e6fb1","#3e6fb1"]},"legend":{"title":"TPM value","orient":"none","legendX":1,"legendY":440,"direction":"horizontal","gradientLength":84,"gradientThickness":6,"titleAnchor":"middle","titleFontSize":10,"titleFontWeight":"normal","titlePadding":1,"labelFontSize":9,"labelOffset":2,"values":[100,75,50,25,0]}}}},
  {"width":47,"height":104.5,"data":{"name":"groups"},"transform":[{"filter":"datum.group=='Pancreas'||datum.group=='Colon'||datum.group=='Esophagus'||datum.group=='Stomach'"}],"encoding":{"x":{"datum":0,"type":"quantitative","scale":{"domain":[0,47]},"axis":null}},"layer":[
   {"mark":{"type":"rule","stroke":"#999999","strokeWidth":1.5,"yOffset":-0.5,"y2Offset":4},"encoding":{"y":{"field":"first","type":"ordinal","scale":{"domain":[30,31,37,38,39,40,41,42,43,52,53,54]},"axis":null},"y2":{"field":"last"}}},
   {"transform":[{"filter":"datum.even==0"}],"mark":{"type":"text","align":"left","baseline":"middle","fontSize":8.3,"dx":3,"dy":1},"encoding":{"y":{"field":"mid","type":"ordinal"},"text":{"field":"label"}}},
   {"transform":[{"filter":"datum.even==1"}],"mark":{"type":"text","align":"left","baseline":"middle","fontSize":8.3,"dx":3,"dy":5},"encoding":{"y":{"field":"mid","type":"ordinal"},"text":{"field":"label"}}}
  ]}
 ]},
 {"hconcat":[
  {"width":16,"height":27,"data":{"name":"cells"},"transform":[{"filter":"datum.gene=='SDC3'&&indexof([1,2,3],datum.row)>=0"}],"mark":{"type":"rect","stroke":"#929292","strokeWidth":1.4},"encoding":{"x":{"field":"gene","type":"nominal","sort":null,"scale":{"domain":["SDC3"]},"axis":{"orient":"top","labelAngle":-90,"labelFontSize":10,"labelPadding":2.5,"minExtent":42.3}},"y":{"field":"row","type":"ordinal","scale":{"domain":[1,2,3]},"axis":{"orient":"right","labelExpr":"rowLabels[datum.value-1]","labelFontSize":8.5,"labelPadding":2,"labelOverlap":false,"minExtent":115,"labelColor":{"condition":{"test":"indexof(redRows,datum.value)>=0","value":"#ec2024"},"value":"black"}}},"color":{"field":"tpm","type":"quantitative","scale":{"domain":[110,100,83.3,66.7,50,33.3,20,6,0,-4],"range":["#d73027","#d73027","#fc8d59","#fee090","#ffffbf","#e0f3f8","#91bfdb","#4272b3","#3e6fb1","#3e6fb1"]},"legend":{"title":"TPM value","orient":"none","legendX":1,"legendY":440,"direction":"horizontal","gradientLength":84,"gradientThickness":6,"titleAnchor":"middle","titleFontSize":10,"titleFontWeight":"normal","titlePadding":1,"labelFontSize":9,"labelOffset":2,"values":[100,75,50,25,0]}}}},
  {"width":47,"height":27,"data":{"name":"groups"},"transform":[{"filter":"datum.group=='Skin'"}],"encoding":{"x":{"datum":0,"type":"quantitative","scale":{"domain":[0,47]},"axis":null}},"layer":[
   {"mark":{"type":"rule","stroke":"#999999","strokeWidth":1.5,"yOffset":-3,"y2Offset":4},"encoding":{"y":{"field":"first","type":"ordinal","scale":{"domain":[1,2,3]},"axis":null},"y2":{"field":"last"}}},
   {"mark":{"type":"text","align":"left","baseline":"middle","fontSize":8.3,"dx":3,"dy":1},"encoding":{"y":{"field":"mid","type":"ordinal"},"text":{"field":"label"}}}
  ]}
 ]},
 {"hconcat":[
  {"width":16,"height":26,"data":{"name":"cells"},"transform":[{"filter":"datum.gene=='SDC3'&&indexof([58,59,60],datum.row)>=0"}],"mark":{"type":"rect","stroke":"#929292","strokeWidth":1.4},"encoding":{"x":{"field":"gene","type":"nominal","sort":null,"scale":{"domain":["SDC3"]},"axis":{"orient":"top","labels":false,"minExtent":1.3,"labelPadding":0}},"y":{"field":"row","type":"ordinal","scale":{"domain":[58,59,60]},"axis":{"orient":"right","labelExpr":"rowLabels[datum.value-1]","labelFontSize":8.5,"labelPadding":2,"labelOverlap":false,"minExtent":115,"labelColor":{"condition":{"test":"indexof(redRows,datum.value)>=0","value":"#ec2024"},"value":"black"}}},"color":{"field":"tpm","type":"quantitative","scale":{"domain":[110,100,83.3,66.7,50,33.3,20,6,0,-4],"range":["#d73027","#d73027","#fc8d59","#fee090","#ffffbf","#e0f3f8","#91bfdb","#4272b3","#3e6fb1","#3e6fb1"]},"legend":{"title":"TPM value","orient":"none","legendX":1,"legendY":440,"direction":"horizontal","gradientLength":84,"gradientThickness":6,"titleAnchor":"middle","titleFontSize":10,"titleFontWeight":"normal","titlePadding":1,"labelFontSize":9,"labelOffset":2,"values":[100,75,50,25,0]}}}},
  {"width":47,"height":26,"data":{"name":"groups"},"transform":[{"filter":"datum.group=='Brain'"}],"encoding":{"x":{"datum":0,"type":"quantitative","scale":{"domain":[0,47]},"axis":null}},"layer":[
   {"mark":{"type":"rule","stroke":"#999999","strokeWidth":1.5,"yOffset":-3,"y2Offset":4},"encoding":{"y":{"field":"first","type":"ordinal","scale":{"domain":[58,59,60]},"axis":null},"y2":{"field":"last"}}},
   {"mark":{"type":"text","align":"left","baseline":"middle","fontSize":8.3,"dx":3,"dy":1},"encoding":{"y":{"field":"mid","type":"ordinal"},"text":{"field":"label"}}}
  ]}
 ]},
 {"hconcat":[
  {"width":30,"height":42,"data":{"name":"cells"},"transform":[{"filter":"(datum.gene=='SDC2'||datum.gene=='GPC3')&&datum.row>=32&&datum.row<=36"}],"mark":{"type":"rect","stroke":"#929292","strokeWidth":1.4},"encoding":{"x":{"field":"gene","type":"nominal","sort":null,"scale":{"domain":["SDC2","GPC3"]},"axis":{"orient":"top","labelAngle":-90,"labelFontSize":10,"labelPadding":2.5,"minExtent":44.5}},"y":{"field":"row","type":"ordinal","scale":{"domain":[32,33,34,35,36]},"axis":{"orient":"right","labelExpr":"rowLabels[datum.value-1]","labelFontSize":8.5,"labelPadding":2,"labelOverlap":false,"minExtent":101,"labelColor":{"condition":{"test":"indexof(redRows,datum.value)>=0","value":"#ec2024"},"value":"black"}}},"color":{"field":"tpm","type":"quantitative","scale":{"domain":[110,100,83.3,66.7,50,33.3,20,6,0,-4],"range":["#d73027","#d73027","#fc8d59","#fee090","#ffffbf","#e0f3f8","#91bfdb","#4272b3","#3e6fb1","#3e6fb1"]},"legend":{"title":"TPM value","orient":"none","legendX":1,"legendY":440,"direction":"horizontal","gradientLength":84,"gradientThickness":6,"titleAnchor":"middle","titleFontSize":10,"titleFontWeight":"normal","titlePadding":1,"labelFontSize":9,"labelOffset":2,"values":[100,75,50,25,0]}}}},
  {"width":47,"height":42,"data":{"name":"groups"},"transform":[{"filter":"datum.group=='Liver'"}],"encoding":{"x":{"datum":0,"type":"quantitative","scale":{"domain":[0,47]},"axis":null}},"layer":[
   {"mark":{"type":"rule","stroke":"#999999","strokeWidth":1.5,"yOffset":-1,"y2Offset":2},"encoding":{"y":{"field":"first","type":"ordinal","scale":{"domain":[32,33,34,35,36]},"axis":null},"y2":{"field":"last"}}},
   {"mark":{"type":"text","align":"left","baseline":"middle","fontSize":8.3,"dx":3,"dy":1},"encoding":{"y":{"field":"mid","type":"ordinal"},"text":{"field":"label"}}}
  ]}
 ]},
 {"hconcat":[
  {"width":59,"height":66,"data":{"name":"cells"},"transform":[{"filter":"(datum.gene=='GPC1'||datum.gene=='FZD6'||datum.gene=='PTK7'||datum.gene=='FZD7')&&datum.row>=44&&datum.row<=51"}],"mark":{"type":"rect","stroke":"#929292","strokeWidth":1.4},"encoding":{"x":{"field":"gene","type":"nominal","sort":null,"scale":{"domain":["GPC1","FZD6","PTK7","FZD7"]},"axis":{"orient":"top","labelAngle":-90,"labelFontSize":10,"labelPadding":2.5,"minExtent":45}},"y":{"field":"row","type":"ordinal","scale":{"domain":[44,45,46,47,48,49,50,51]},"axis":{"orient":"right","labelExpr":"rowLabels[datum.value-1]","labelFontSize":8.5,"labelPadding":2,"labelOverlap":false,"minExtent":72,"labelColor":{"condition":{"test":"indexof(redRows,datum.value)>=0","value":"#ec2024"},"value":"black"}}},"color":{"field":"tpm","type":"quantitative","scale":{"domain":[110,100,83.3,66.7,50,33.3,20,6,0,-4],"range":["#d73027","#d73027","#fc8d59","#fee090","#ffffbf","#e0f3f8","#91bfdb","#4272b3","#3e6fb1","#3e6fb1"]},"legend":{"title":"TPM value","orient":"none","legendX":1,"legendY":440,"direction":"horizontal","gradientLength":84,"gradientThickness":6,"titleAnchor":"middle","titleFontSize":10,"titleFontWeight":"normal","titlePadding":1,"labelFontSize":9,"labelOffset":2,"values":[100,75,50,25,0]}}}},
  {"width":47,"height":66,"data":{"name":"groups"},"transform":[{"filter":"datum.group=='Head'||datum.group=='Lung'"}],"encoding":{"x":{"datum":0,"type":"quantitative","scale":{"domain":[0,47]},"axis":null}},"layer":[
   {"mark":{"type":"rule","stroke":"#999999","strokeWidth":1.5,"yOffset":-3,"y2Offset":3},"encoding":{"y":{"field":"first","type":"ordinal","scale":{"domain":[44,45,46,47,48,49,50,51]},"axis":null},"y2":{"field":"last"}}},
   {"mark":{"type":"text","align":"left","baseline":"middle","fontSize":8.3,"dx":3,"dy":1,"lineBreak":"\n","lineHeight":8},"encoding":{"y":{"field":"mid","type":"ordinal"},"text":{"field":"label"}}}
  ]}
 ]},
 {"hconcat":[
  {"width":59,"height":25,"data":{"name":"cells"},"transform":[{"filter":"(datum.gene=='GPC1'||datum.gene=='FZD6'||datum.gene=='PTK7'||datum.gene=='FZD7')&&datum.row>=55&&datum.row<=57"}],"mark":{"type":"rect","stroke":"#929292","strokeWidth":1.4},"encoding":{"x":{"field":"gene","type":"nominal","sort":null,"scale":{"domain":["GPC1","FZD6","PTK7","FZD7"]},"axis":{"orient":"top","labels":false,"minExtent":0.5,"labelPadding":0}},"y":{"field":"row","type":"ordinal","scale":{"domain":[55,56,57]},"axis":{"orient":"right","labelExpr":"rowLabels[datum.value-1]","labelFontSize":8.5,"labelPadding":2,"labelOverlap":false,"minExtent":72,"labelColor":{"condition":{"test":"indexof(redRows,datum.value)>=0","value":"#ec2024"},"value":"black"}}},"color":{"field":"tpm","type":"quantitative","scale":{"domain":[110,100,83.3,66.7,50,33.3,20,6,0,-4],"range":["#d73027","#d73027","#fc8d59","#fee090","#ffffbf","#e0f3f8","#91bfdb","#4272b3","#3e6fb1","#3e6fb1"]},"legend":{"title":"TPM value","orient":"none","legendX":1,"legendY":440,"direction":"horizontal","gradientLength":84,"gradientThickness":6,"titleAnchor":"middle","titleFontSize":10,"titleFontWeight":"normal","titlePadding":1,"labelFontSize":9,"labelOffset":2,"values":[100,75,50,25,0]}}}},
  {"width":47,"height":25,"data":{"name":"groups"},"transform":[{"filter":"datum.group=='Bladder'"}],"encoding":{"x":{"datum":0,"type":"quantitative","scale":{"domain":[0,47]},"axis":null}},"layer":[
   {"mark":{"type":"rule","stroke":"#999999","strokeWidth":1.5,"yOffset":-3,"y2Offset":3},"encoding":{"y":{"field":"first","type":"ordinal","scale":{"domain":[55,56,57]},"axis":null},"y2":{"field":"last"}}},
   {"mark":{"type":"text","align":"left","baseline":"middle","fontSize":8.3,"dx":3,"dy":1},"encoding":{"y":{"field":"mid","type":"ordinal"},"text":{"field":"label"}}}
  ]}
 ]}
]}
]}
